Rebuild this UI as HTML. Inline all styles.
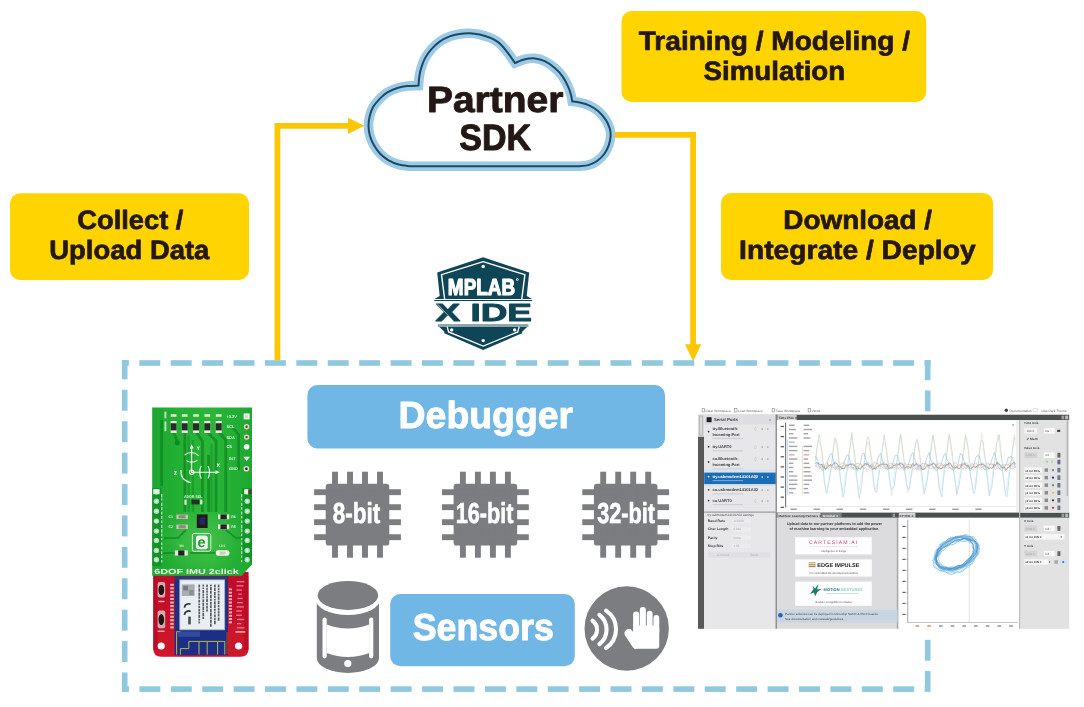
<!DOCTYPE html>
<html lang="en">
<head>
<meta charset="utf-8">
<title>Partner SDK workflow</title>
<style>
html,body{margin:0;padding:0;background:#fff;}
body{width:1084px;height:707px;overflow:hidden;}
svg{display:block;will-change:transform;font-family:"Liberation Sans",sans-serif;text-rendering:geometricPrecision;}
</style>
</head>
<body>
<svg width="1084" height="707" viewBox="0 0 1084 707">
<rect width="1084" height="707" fill="#fff"/>
<g id="labels">
<rect x="10" y="193.2" width="239.0" height="86.8" rx="10" fill="#FFD400"/>
<text transform="translate(77.26 228.85) scale(1.0260 1)" font-size="26.6" font-weight="bold" fill="#231815" stroke="#231815" stroke-width="0.70" stroke-linejoin="round">Collect /</text>
<text transform="translate(49.30 258.75) scale(1.0316 1)" font-size="26.6" font-weight="bold" fill="#231815" stroke="#231815" stroke-width="0.70" stroke-linejoin="round">Upload Data</text>
<rect x="621.5" y="11" width="304.7" height="91.0" rx="10" fill="#FFD400"/>
<text transform="translate(638.77 50.45) scale(1.0555 1)" font-size="26.6" font-weight="bold" fill="#231815" stroke="#231815" stroke-width="0.70" stroke-linejoin="round">Training / Modeling /</text>
<text transform="translate(703.52 80.45) scale(1.0424 1)" font-size="26.6" font-weight="bold" fill="#231815" stroke="#231815" stroke-width="0.70" stroke-linejoin="round">Simulation</text>
<rect x="721" y="193" width="272.1" height="87.0" rx="10" fill="#FFD400"/>
<text transform="translate(783.34 228.55) scale(1.0485 1)" font-size="26.6" font-weight="bold" fill="#231815" stroke="#231815" stroke-width="0.70" stroke-linejoin="round">Download /</text>
<text transform="translate(739.12 258.95) scale(1.0596 1)" font-size="26.6" font-weight="bold" fill="#231815" stroke="#231815" stroke-width="0.70" stroke-linejoin="round">Integrate / Deploy</text>
</g>
<path d="M409.8 166.2 C407.93 165.92 402.13 165.47 398.60 164.50 C395.07 163.53 391.72 162.23 388.60 160.40 C385.48 158.57 382.38 156.10 379.90 153.50 C377.42 150.90 375.35 147.70 373.70 144.80 C372.05 141.90 370.87 139.22 370.00 136.10 C369.13 132.98 368.55 129.42 368.50 126.10 C368.45 122.78 368.93 119.37 369.70 116.20 C370.47 113.03 371.40 110.03 373.10 107.10 C374.80 104.17 377.52 101.05 379.90 98.60 C382.28 96.15 384.48 94.17 387.40 92.40 C390.32 90.63 394.08 89.07 397.40 88.00 C400.72 86.93 403.78 86.40 407.30 86.00 C410.82 85.60 416.63 85.67 418.50 85.60 C418.62 84.22 418.78 80.13 419.20 77.30 C419.62 74.47 420.07 71.72 421.00 68.60 C421.93 65.48 423.13 61.77 424.80 58.60 C426.47 55.43 428.52 52.43 431.00 49.60 C433.48 46.77 436.58 43.80 439.70 41.60 C442.82 39.40 446.38 37.68 449.70 36.40 C453.02 35.12 456.28 34.43 459.60 33.90 C462.92 33.37 466.27 33.10 469.60 33.20 C472.93 33.30 476.28 33.78 479.60 34.50 C482.92 35.22 486.93 36.55 489.50 37.50 C492.07 38.45 493.25 39.15 495.00 40.20 C496.75 41.25 497.92 41.78 500.00 43.80 C502.08 45.82 505.02 49.10 507.50 52.30 C509.98 55.50 513.67 61.22 514.90 63.00 C516.57 62.38 521.57 60.07 524.90 59.30 C528.23 58.53 531.58 58.08 534.90 58.40 C538.22 58.72 541.48 59.60 544.80 61.20 C548.12 62.80 551.88 65.52 554.80 68.00 C557.72 70.48 560.12 73.08 562.30 76.10 C564.48 79.12 566.45 82.98 567.90 86.10 C569.35 89.22 570.28 92.25 571.00 94.80 C571.72 97.35 572.00 100.30 572.20 101.40 C573.45 101.58 576.80 101.80 579.70 102.50 C582.60 103.20 586.50 104.15 589.60 105.60 C592.70 107.05 595.60 108.82 598.30 111.20 C601.00 113.58 603.88 117.00 605.80 119.90 C607.72 122.80 609.00 125.90 609.80 128.60 C610.60 131.30 610.75 133.40 610.60 136.10 C610.45 138.80 609.90 141.90 608.90 144.80 C607.90 147.70 606.57 150.80 604.60 153.50 C602.63 156.20 599.80 159.07 597.10 161.00 C594.40 162.93 591.30 164.23 588.40 165.10 C585.50 165.97 581.15 166.02 579.70 166.20 Z" fill="#fff" stroke="#9DCAE6" stroke-width="9.6" stroke-linejoin="miter" stroke-miterlimit="3"/>
<path d="M409.8 166.2 C407.93 165.92 402.13 165.47 398.60 164.50 C395.07 163.53 391.72 162.23 388.60 160.40 C385.48 158.57 382.38 156.10 379.90 153.50 C377.42 150.90 375.35 147.70 373.70 144.80 C372.05 141.90 370.87 139.22 370.00 136.10 C369.13 132.98 368.55 129.42 368.50 126.10 C368.45 122.78 368.93 119.37 369.70 116.20 C370.47 113.03 371.40 110.03 373.10 107.10 C374.80 104.17 377.52 101.05 379.90 98.60 C382.28 96.15 384.48 94.17 387.40 92.40 C390.32 90.63 394.08 89.07 397.40 88.00 C400.72 86.93 403.78 86.40 407.30 86.00 C410.82 85.60 416.63 85.67 418.50 85.60 C418.62 84.22 418.78 80.13 419.20 77.30 C419.62 74.47 420.07 71.72 421.00 68.60 C421.93 65.48 423.13 61.77 424.80 58.60 C426.47 55.43 428.52 52.43 431.00 49.60 C433.48 46.77 436.58 43.80 439.70 41.60 C442.82 39.40 446.38 37.68 449.70 36.40 C453.02 35.12 456.28 34.43 459.60 33.90 C462.92 33.37 466.27 33.10 469.60 33.20 C472.93 33.30 476.28 33.78 479.60 34.50 C482.92 35.22 486.93 36.55 489.50 37.50 C492.07 38.45 493.25 39.15 495.00 40.20 C496.75 41.25 497.92 41.78 500.00 43.80 C502.08 45.82 505.02 49.10 507.50 52.30 C509.98 55.50 513.67 61.22 514.90 63.00 C516.57 62.38 521.57 60.07 524.90 59.30 C528.23 58.53 531.58 58.08 534.90 58.40 C538.22 58.72 541.48 59.60 544.80 61.20 C548.12 62.80 551.88 65.52 554.80 68.00 C557.72 70.48 560.12 73.08 562.30 76.10 C564.48 79.12 566.45 82.98 567.90 86.10 C569.35 89.22 570.28 92.25 571.00 94.80 C571.72 97.35 572.00 100.30 572.20 101.40 C573.45 101.58 576.80 101.80 579.70 102.50 C582.60 103.20 586.50 104.15 589.60 105.60 C592.70 107.05 595.60 108.82 598.30 111.20 C601.00 113.58 603.88 117.00 605.80 119.90 C607.72 122.80 609.00 125.90 609.80 128.60 C610.60 131.30 610.75 133.40 610.60 136.10 C610.45 138.80 609.90 141.90 608.90 144.80 C607.90 147.70 606.57 150.80 604.60 153.50 C602.63 156.20 599.80 159.07 597.10 161.00 C594.40 162.93 591.30 164.23 588.40 165.10 C585.50 165.97 581.15 166.02 579.70 166.20 Z" fill="none" stroke="#1C4A60" stroke-width="2.0" stroke-linejoin="miter"/>
<text transform="translate(426.91 112.15) scale(1.0657 1)" font-size="36.6" font-weight="bold" fill="#231815" stroke="#231815" stroke-width="0.90" stroke-linejoin="round">Partner</text>
<text transform="translate(459.33 149.85) scale(0.9292 1)" font-size="36.6" font-weight="bold" fill="#231815" stroke="#231815" stroke-width="0.97" stroke-linejoin="round">SDK</text>
<g id="frame" fill="#8FC8DF">
<rect x="121.90" y="360.20" width="6.93" height="5.6"/><rect x="139.30" y="360.20" width="20.94" height="5.6"/><rect x="170.71" y="360.20" width="20.94" height="5.6"/><rect x="202.12" y="360.20" width="20.94" height="5.6"/><rect x="233.53" y="360.20" width="20.94" height="5.6"/><rect x="264.94" y="360.20" width="20.94" height="5.6"/><rect x="296.35" y="360.20" width="20.94" height="5.6"/><rect x="327.76" y="360.20" width="20.94" height="5.6"/><rect x="359.17" y="360.20" width="20.94" height="5.6"/><rect x="390.58" y="360.20" width="20.94" height="5.6"/><rect x="421.99" y="360.20" width="20.94" height="5.6"/><rect x="453.40" y="360.20" width="20.94" height="5.6"/><rect x="484.81" y="360.20" width="20.94" height="5.6"/><rect x="516.22" y="360.20" width="20.94" height="5.6"/><rect x="547.63" y="360.20" width="20.94" height="5.6"/><rect x="579.04" y="360.20" width="20.94" height="5.6"/><rect x="610.45" y="360.20" width="20.94" height="5.6"/><rect x="641.86" y="360.20" width="20.94" height="5.6"/><rect x="673.27" y="360.20" width="20.94" height="5.6"/><rect x="704.68" y="360.20" width="20.94" height="5.6"/><rect x="736.09" y="360.20" width="20.94" height="5.6"/><rect x="767.50" y="360.20" width="20.94" height="5.6"/><rect x="798.91" y="360.20" width="20.94" height="5.6"/><rect x="830.32" y="360.20" width="20.94" height="5.6"/><rect x="861.73" y="360.20" width="20.94" height="5.6"/><rect x="893.14" y="360.20" width="20.94" height="5.6"/><rect x="924.55" y="360.20" width="5.95" height="5.6"/>
<rect x="121.90" y="686.30" width="7.03" height="5.6"/><rect x="139.40" y="686.30" width="20.94" height="5.6"/><rect x="170.81" y="686.30" width="20.94" height="5.6"/><rect x="202.22" y="686.30" width="20.94" height="5.6"/><rect x="233.63" y="686.30" width="20.94" height="5.6"/><rect x="265.04" y="686.30" width="20.94" height="5.6"/><rect x="296.45" y="686.30" width="20.94" height="5.6"/><rect x="327.86" y="686.30" width="20.94" height="5.6"/><rect x="359.27" y="686.30" width="20.94" height="5.6"/><rect x="390.68" y="686.30" width="20.94" height="5.6"/><rect x="422.09" y="686.30" width="20.94" height="5.6"/><rect x="453.50" y="686.30" width="20.94" height="5.6"/><rect x="484.91" y="686.30" width="20.94" height="5.6"/><rect x="516.32" y="686.30" width="20.94" height="5.6"/><rect x="547.73" y="686.30" width="20.94" height="5.6"/><rect x="579.14" y="686.30" width="20.94" height="5.6"/><rect x="610.55" y="686.30" width="20.94" height="5.6"/><rect x="641.96" y="686.30" width="20.94" height="5.6"/><rect x="673.37" y="686.30" width="20.94" height="5.6"/><rect x="704.78" y="686.30" width="20.94" height="5.6"/><rect x="736.19" y="686.30" width="20.94" height="5.6"/><rect x="767.60" y="686.30" width="20.94" height="5.6"/><rect x="799.01" y="686.30" width="20.94" height="5.6"/><rect x="830.42" y="686.30" width="20.94" height="5.6"/><rect x="861.83" y="686.30" width="20.94" height="5.6"/><rect x="893.24" y="686.30" width="20.94" height="5.6"/><rect x="924.65" y="686.30" width="0.35" height="5.6"/>
<rect x="121.90" y="360.20" width="5.6" height="19.13"/><rect x="121.90" y="389.80" width="5.6" height="20.94"/><rect x="121.90" y="421.21" width="5.6" height="20.94"/><rect x="121.90" y="452.62" width="5.6" height="20.94"/><rect x="121.90" y="484.03" width="5.6" height="20.94"/><rect x="121.90" y="515.44" width="5.6" height="20.94"/><rect x="121.90" y="546.85" width="5.6" height="20.94"/><rect x="121.90" y="578.26" width="5.6" height="20.94"/><rect x="121.90" y="609.67" width="5.6" height="20.94"/><rect x="121.90" y="641.08" width="5.6" height="20.94"/><rect x="121.90" y="672.49" width="5.6" height="19.51"/>
<rect x="924.90" y="360.20" width="5.6" height="19.98"/><rect x="924.90" y="390.50" width="5.6" height="20.85"/><rect x="924.90" y="421.67" width="5.6" height="20.85"/><rect x="924.90" y="452.84" width="5.6" height="20.85"/><rect x="924.90" y="484.01" width="5.6" height="20.85"/><rect x="924.90" y="515.18" width="5.6" height="20.85"/><rect x="924.90" y="546.35" width="5.6" height="20.85"/><rect x="924.90" y="577.52" width="5.6" height="20.85"/><rect x="924.90" y="608.69" width="5.6" height="20.85"/><rect x="924.90" y="639.86" width="5.6" height="20.85"/><rect x="924.90" y="671.03" width="5.6" height="20.85"/>
</g>
<g id="arrows" fill="none" stroke="#FCC600" stroke-width="5.7">
<path d="M277.4 360.3 V125.8 H350"/>
<path d="M615 134.9 H693.1 V346"/>
</g>
<path d="M348 117.7 L364.3 125.8 L348 134 Z" fill="#FCC600"/>
<path d="M685 344.2 L701.2 344.2 L693.1 361.2 Z" fill="#FCC600"/>
<g id="badge">
<polygon points="483.20,257.30 437.20,272.50 439.70,295.90 434.30,298.90 532.10,298.90 526.70,295.90 529.20,272.50" fill="#0F4657"/>
<polyline points="444.70,299.60 441.50,274.70 483.20,261.70 524.90,274.70 521.70,299.60" fill="none" stroke="#fff" stroke-width="1.4" stroke-linejoin="miter"/>
<rect x="434.2" y="299.95" width="98.00" height="1.1" fill="#0F4657"/>
<circle cx="483.2" cy="266.4" r="1.75" fill="#fff"/>
<text transform="translate(447.87 294.60) scale(0.8158 1)" font-size="23.2" font-weight="bold" fill="#fff" stroke="#fff" stroke-width="1.23" stroke-linejoin="round">MPLAB</text>
<circle cx="517.3" cy="279.6" r="1.25" fill="#fff"/><circle cx="517.3" cy="279.6" r="0.55" fill="#0F4657"/>
<text transform="translate(435.48 321.35) scale(1.4903 1)" font-size="24.8" font-weight="bold" fill="#0F4657" stroke="#0F4657" stroke-width="0.90" stroke-linejoin="round">X IDE</text>
<path d="M437.8 304.4 L453.4 321.2" stroke="#fff" stroke-width="0.6" fill="none"/>
<rect x="437.9" y="324.1" width="90.60" height="2.9" fill="#8AA2AA"/>
<polygon points="439.30,326.90 444.30,331.80 444.30,333.20 483.20,349.90 522.10,333.20 522.10,331.80 527.10,326.90" fill="#0F4657"/>
<polyline points="447.20,326.60 448.60,331.90 483.20,346.00 517.80,331.90 519.20,326.60" fill="none" stroke="#fff" stroke-width="1.3" stroke-linejoin="miter"/>
<circle cx="451.70" cy="329.90" r="1.7" fill="#fff"/>
<circle cx="514.70" cy="329.90" r="1.7" fill="#fff"/>
<circle cx="483.20" cy="340.60" r="1.7" fill="#fff"/>
</g>
<rect x="307.4" y="385" width="357.6" height="63.5" rx="10" fill="#70B7E6"/>
<text transform="translate(398.62 428.15) scale(0.9922 1)" font-size="37.7" font-weight="bold" fill="#fff" stroke="#fff" stroke-width="0.91" stroke-linejoin="round">Debugger</text>
<g fill="#7B7D80"><rect x="325.70" y="483.80" width="63.6" height="61.8" rx="3.2"/><rect x="332.05" y="471.70" width="5.9" height="86"/><rect x="314.10" y="489.25" width="86.8" height="5.9"/><rect x="347.05" y="471.70" width="5.9" height="86"/><rect x="314.10" y="504.25" width="86.8" height="5.9"/><rect x="362.05" y="471.70" width="5.9" height="86"/><rect x="314.10" y="519.25" width="86.8" height="5.9"/><rect x="377.05" y="471.70" width="5.9" height="86"/><rect x="314.10" y="534.25" width="86.8" height="5.9"/></g><text transform="translate(332.77 522.75) scale(0.7817 1)" font-size="28.8" font-weight="bold" fill="#fff" stroke="#fff" stroke-width="0.64" stroke-linejoin="round">8-bit</text>
<g fill="#7B7D80"><rect x="453.60" y="483.80" width="63.6" height="61.8" rx="3.2"/><rect x="459.95" y="471.70" width="5.9" height="86"/><rect x="442.00" y="489.25" width="86.8" height="5.9"/><rect x="474.95" y="471.70" width="5.9" height="86"/><rect x="442.00" y="504.25" width="86.8" height="5.9"/><rect x="489.95" y="471.70" width="5.9" height="86"/><rect x="442.00" y="519.25" width="86.8" height="5.9"/><rect x="504.95" y="471.70" width="5.9" height="86"/><rect x="442.00" y="534.25" width="86.8" height="5.9"/></g><text transform="translate(455.74 522.75) scale(0.7521 1)" font-size="28.8" font-weight="bold" fill="#fff" stroke="#fff" stroke-width="0.66" stroke-linejoin="round">16-bit</text>
<g fill="#7B7D80"><rect x="593.90" y="483.80" width="63.6" height="61.8" rx="3.2"/><rect x="600.25" y="471.70" width="5.9" height="86"/><rect x="582.30" y="489.25" width="86.8" height="5.9"/><rect x="615.25" y="471.70" width="5.9" height="86"/><rect x="582.30" y="504.25" width="86.8" height="5.9"/><rect x="630.25" y="471.70" width="5.9" height="86"/><rect x="582.30" y="519.25" width="86.8" height="5.9"/><rect x="645.25" y="471.70" width="5.9" height="86"/><rect x="582.30" y="534.25" width="86.8" height="5.9"/></g><text transform="translate(597.21 522.75) scale(0.7525 1)" font-size="28.8" font-weight="bold" fill="#fff" stroke="#fff" stroke-width="0.66" stroke-linejoin="round">32-bit</text>
<rect x="390.2" y="594" width="184.6" height="72.2" rx="10" fill="#70B7E6"/>
<text transform="translate(412.78 639.95) scale(0.9481 1)" font-size="37.7" font-weight="bold" fill="#fff" stroke="#fff" stroke-width="0.95" stroke-linejoin="round">Sensors</text>
<g id="cyl">
<path d="M316.8 600 V658 A31.1 15 0 0 0 379 658 V600 Z" fill="#7B7D80"/>
<ellipse cx="347.9" cy="598.4" rx="32.6" ry="16.7" fill="#fff"/>
<ellipse cx="347.9" cy="595.4" rx="30.3" ry="14.5" fill="#7B7D80"/>
<path d="M326.6 624.4 Q347.9 632.5 369.2 624.4 V653 Q347.9 661 326.6 653 Z" fill="#fff"/>
<path d="M324.6 619.5 V656.3 M371.2 619.5 V656.3" stroke="#fff" stroke-width="4.2" stroke-linecap="round" fill="none"/>
<circle cx="347.8" cy="663.5" r="3.6" fill="#fff"/>
</g>
<g id="gest">
<circle cx="626.7" cy="628.5" r="42.2" fill="#7B7D80"/>
<path d="M592.58 620.74 A11.14 11.14 0 0 1 592.58 638.57 M599.41 614.80 A18.57 18.57 0 0 1 599.41 644.06 M606.09 610.65 A22.57 22.57 0 0 1 606.09 648.07" fill="none" stroke="#fff" stroke-width="4.1" stroke-linecap="round"/>
<rect x="633.12" y="611.39" width="6.09" height="23.02" rx="3" fill="#fff"/>
<rect x="639.81" y="606.93" width="6.09" height="27.48" rx="3" fill="#fff"/>
<rect x="646.79" y="610.65" width="5.79" height="23.76" rx="2.9" fill="#fff"/>
<rect x="653.47" y="615.10" width="5.79" height="19.31" rx="2.9" fill="#fff"/>
<rect x="633.12" y="625.50" width="26.14" height="23.17" rx="3" fill="#fff"/>
<path d="M625.25 632.18 L627.18 629.95 L630.15 629.66 L633.86 633.67 L635.35 648.52 L633.12 646.29 L625.25 634.41 Z" fill="#fff" stroke="#fff" stroke-width="1.5" stroke-linejoin="round"/>
</g>
<defs><filter id="bsoft" x="-5%" y="-5%" width="110%" height="110%"><feGaussianBlur stdDeviation="0.7"/></filter><linearGradient id="gg" x1="0" y1="0" x2="1" y2="0"><stop offset="0" stop-color="#1ca630"/><stop offset="0.25" stop-color="#24b034"/><stop offset="0.6" stop-color="#2ab638"/><stop offset="1" stop-color="#1ea832"/></linearGradient><linearGradient id="rg" x1="0" y1="0" x2="0" y2="1"><stop offset="0" stop-color="#be0e2a"/><stop offset="1" stop-color="#d0142c"/></linearGradient><radialGradient id="glow" cx="0.5" cy="0.5" r="0.5"><stop offset="0" stop-color="#5cc85a" stop-opacity="0.55"/><stop offset="1" stop-color="#5cc85a" stop-opacity="0"/></radialGradient></defs>
<g id="board" filter="url(#bsoft)">
<path d="M153.2 572 H248.6 V648.6 Q248.6 656.8 240.4 656.8 H161.4 Q153.2 656.8 153.2 648.6 Z" fill="url(#rg)"/>
<rect x="153.20" y="576.00" width="4.80" height="74.00" fill="#b00c24" opacity="0.6"/>
<rect x="244.00" y="576.00" width="4.60" height="74.00" fill="#b00c24" opacity="0.5"/>
<rect x="174.60" y="576.60" width="53.20" height="78.60" fill="#1c2f86"/>
<rect x="174.60" y="576.60" width="53.20" height="3.60" fill="#2a3a7a"/>
<rect x="179.80" y="579.90" width="44.90" height="49.90" fill="#e9eef2"/>
<rect x="179.80" y="579.90" width="44.90" height="49.90" fill="none" stroke="#aab4c0" stroke-width="0.8"/>
<rect x="181.80" y="584.40" width="12.80" height="11.60" fill="#a9adb2"/>
<rect x="183.20" y="585.80" width="4.80" height="4.60" fill="#777b80"/>
<rect x="189.20" y="590.00" width="4.40" height="5.00" fill="#8a8e92"/>
<path d="M190.6 604.2 A4.4 4.4 0 0 0 184.4 607.6 M190.6 611.4 A4.4 4.4 0 0 0 184.4 614.8" stroke="#2a2e34" stroke-width="1.7" fill="none"/>
<rect x="188.20" y="616.60" width="2.60" height="7.80" fill="#4a4e56"/>
<rect x="198.40" y="584.60" width="1.70" height="2.94" fill="#5a5e66"/>
<rect x="198.40" y="588.43" width="1.70" height="3.30" fill="#5a5e66"/>
<rect x="198.40" y="592.60" width="1.70" height="3.26" fill="#5a5e66"/>
<rect x="198.40" y="596.37" width="1.70" height="2.44" fill="#5a5e66"/>
<rect x="198.40" y="599.78" width="1.70" height="2.77" fill="#5a5e66"/>
<rect x="198.40" y="603.50" width="1.70" height="1.80" fill="#5a5e66"/>
<rect x="198.40" y="606.04" width="1.70" height="2.04" fill="#5a5e66"/>
<rect x="198.40" y="608.86" width="1.70" height="2.63" fill="#5a5e66"/>
<rect x="198.40" y="612.00" width="1.70" height="1.99" fill="#5a5e66"/>
<rect x="198.40" y="614.63" width="1.70" height="3.25" fill="#5a5e66"/>
<rect x="198.40" y="618.76" width="1.70" height="1.89" fill="#5a5e66"/>
<rect x="198.40" y="621.54" width="1.70" height="1.85" fill="#5a5e66"/>
<rect x="202.40" y="584.60" width="1.70" height="1.84" fill="#5a5e66"/>
<rect x="202.40" y="587.42" width="1.70" height="1.61" fill="#5a5e66"/>
<rect x="202.40" y="589.92" width="1.70" height="3.33" fill="#5a5e66"/>
<rect x="202.40" y="593.83" width="1.70" height="1.90" fill="#5a5e66"/>
<rect x="202.40" y="596.39" width="1.70" height="1.96" fill="#5a5e66"/>
<rect x="202.40" y="599.28" width="1.70" height="2.73" fill="#5a5e66"/>
<rect x="202.40" y="602.60" width="1.70" height="3.34" fill="#5a5e66"/>
<rect x="202.40" y="606.54" width="1.70" height="3.34" fill="#5a5e66"/>
<rect x="202.40" y="610.57" width="1.70" height="1.64" fill="#5a5e66"/>
<rect x="202.40" y="612.92" width="1.70" height="3.28" fill="#5a5e66"/>
<rect x="202.40" y="616.83" width="1.70" height="2.20" fill="#5a5e66"/>
<rect x="206.20" y="584.60" width="1.70" height="2.67" fill="#5a5e66"/>
<rect x="206.20" y="588.13" width="1.70" height="1.72" fill="#5a5e66"/>
<rect x="206.20" y="590.52" width="1.70" height="2.15" fill="#5a5e66"/>
<rect x="206.20" y="593.52" width="1.70" height="1.93" fill="#5a5e66"/>
<rect x="206.20" y="596.19" width="1.70" height="1.92" fill="#5a5e66"/>
<rect x="206.20" y="598.74" width="1.70" height="3.29" fill="#5a5e66"/>
<rect x="206.20" y="603.00" width="1.70" height="2.24" fill="#5a5e66"/>
<rect x="206.20" y="605.95" width="1.70" height="2.59" fill="#5a5e66"/>
<rect x="206.20" y="609.24" width="1.70" height="2.28" fill="#5a5e66"/>
<rect x="210.00" y="584.60" width="1.70" height="1.68" fill="#5a5e66"/>
<rect x="210.00" y="586.87" width="1.70" height="3.32" fill="#5a5e66"/>
<rect x="210.00" y="590.79" width="1.70" height="2.96" fill="#5a5e66"/>
<rect x="210.00" y="594.72" width="1.70" height="3.30" fill="#5a5e66"/>
<rect x="210.00" y="598.69" width="1.70" height="2.24" fill="#5a5e66"/>
<rect x="210.00" y="601.69" width="1.70" height="3.00" fill="#5a5e66"/>
<rect x="210.00" y="605.24" width="1.70" height="2.95" fill="#5a5e66"/>
<rect x="210.00" y="609.08" width="1.70" height="3.15" fill="#5a5e66"/>
<rect x="210.00" y="612.75" width="1.70" height="3.30" fill="#5a5e66"/>
<rect x="210.00" y="616.60" width="1.70" height="2.21" fill="#5a5e66"/>
<rect x="210.00" y="619.61" width="1.70" height="3.25" fill="#5a5e66"/>
<rect x="210.00" y="623.54" width="1.70" height="3.26" fill="#5a5e66"/>
<rect x="214.00" y="584.60" width="1.70" height="2.83" fill="#5a5e66"/>
<rect x="214.00" y="588.09" width="1.70" height="3.04" fill="#5a5e66"/>
<rect x="214.00" y="591.94" width="1.70" height="2.90" fill="#5a5e66"/>
<rect x="214.00" y="595.49" width="1.70" height="2.47" fill="#5a5e66"/>
<rect x="214.00" y="598.82" width="1.70" height="1.75" fill="#5a5e66"/>
<rect x="214.00" y="601.37" width="1.70" height="3.26" fill="#5a5e66"/>
<rect x="214.00" y="605.15" width="1.70" height="2.93" fill="#5a5e66"/>
<rect x="214.00" y="608.75" width="1.70" height="2.05" fill="#5a5e66"/>
<rect x="214.00" y="611.63" width="1.70" height="1.86" fill="#5a5e66"/>
<rect x="214.00" y="614.48" width="1.70" height="2.75" fill="#5a5e66"/>
<rect x="214.00" y="618.13" width="1.70" height="2.20" fill="#5a5e66"/>
<rect x="214.00" y="620.93" width="1.70" height="3.37" fill="#5a5e66"/>
<rect x="217.80" y="584.60" width="1.70" height="2.73" fill="#5a5e66"/>
<rect x="217.80" y="588.23" width="1.70" height="1.79" fill="#5a5e66"/>
<rect x="217.80" y="590.74" width="1.70" height="1.87" fill="#5a5e66"/>
<rect x="217.80" y="593.53" width="1.70" height="2.13" fill="#5a5e66"/>
<rect x="217.80" y="596.39" width="1.70" height="3.40" fill="#5a5e66"/>
<rect x="217.80" y="600.71" width="1.70" height="3.36" fill="#5a5e66"/>
<rect x="217.80" y="604.79" width="1.70" height="2.48" fill="#5a5e66"/>
<rect x="217.80" y="608.14" width="1.70" height="2.46" fill="#5a5e66"/>
<rect x="217.80" y="611.25" width="1.70" height="2.33" fill="#5a5e66"/>
<rect x="217.80" y="614.15" width="1.70" height="2.28" fill="#5a5e66"/>
<rect x="217.80" y="617.42" width="1.70" height="3.33" fill="#5a5e66"/>
<path d="M176.6 654.6 V631.6 H180.4 M180.4 654.6 V648.6 H188.8 V641.4 H199 V654.6 M199 641.4 H207.2 V654.6 M207.2 641.4 H217.6 V654.6 M217.6 641.4 H224.8 V654.6" stroke="#c9c93c" stroke-width="0.9" fill="none"/>
<rect x="178.00" y="631.40" width="22.00" height="5.40" fill="#3a58a8" opacity="0.7"/>
<rect x="226.20" y="632.00" width="3.20" height="22.00" fill="#a8302c" opacity="0.8"/>
<rect x="170.20" y="583.80" width="3.60" height="2.00" fill="#e9b9c0"/>
<rect x="170.20" y="587.35" width="3.60" height="2.00" fill="#e9b9c0"/>
<rect x="170.20" y="590.90" width="3.60" height="2.00" fill="#e9b9c0"/>
<rect x="170.20" y="594.45" width="3.60" height="2.00" fill="#e9b9c0"/>
<rect x="170.20" y="598.00" width="3.60" height="2.00" fill="#e9b9c0"/>
<rect x="170.20" y="601.55" width="3.60" height="2.00" fill="#e9b9c0"/>
<rect x="170.20" y="605.10" width="3.60" height="2.00" fill="#e9b9c0"/>
<rect x="170.20" y="608.65" width="3.60" height="2.00" fill="#e9b9c0"/>
<rect x="170.20" y="612.20" width="3.60" height="2.00" fill="#e9b9c0"/>
<rect x="170.20" y="615.75" width="3.60" height="2.00" fill="#e9b9c0"/>
<rect x="170.20" y="619.30" width="3.60" height="2.00" fill="#e9b9c0"/>
<rect x="170.20" y="622.85" width="3.60" height="2.00" fill="#e9b9c0"/>
<rect x="170.20" y="626.40" width="3.60" height="2.00" fill="#e9b9c0"/>
<rect x="228.80" y="588.40" width="3.20" height="1.90" fill="#e9b9c0"/>
<rect x="228.80" y="591.70" width="3.20" height="1.90" fill="#e9b9c0"/>
<rect x="228.80" y="595.00" width="3.20" height="1.90" fill="#e9b9c0"/>
<rect x="228.80" y="598.30" width="3.20" height="1.90" fill="#e9b9c0"/>
<rect x="228.80" y="601.60" width="3.20" height="1.90" fill="#e9b9c0"/>
<rect x="228.80" y="604.90" width="3.20" height="1.90" fill="#e9b9c0"/>
<rect x="228.80" y="608.20" width="3.20" height="1.90" fill="#e9b9c0"/>
<rect x="228.80" y="611.50" width="3.20" height="1.90" fill="#e9b9c0"/>
<rect x="228.80" y="614.80" width="3.20" height="1.90" fill="#e9b9c0"/>
<rect x="228.80" y="618.10" width="3.20" height="1.90" fill="#e9b9c0"/>
<rect x="228.80" y="621.40" width="3.20" height="1.90" fill="#e9b9c0"/>
<rect x="157.6" y="582.0" width="7.6" height="15.6" rx="2" fill="#d8a8b0"/><ellipse cx="161.3" cy="590" rx="2.8" ry="5" fill="#1a1210"/>
<rect x="157.6" y="610.6" width="7.6" height="17.6" rx="2" fill="#d8a8b0"/><ellipse cx="161.3" cy="619.6" rx="2.8" ry="5.6" fill="#1a1210"/>
<rect x="158.40" y="600.80" width="6.00" height="1.40" fill="#f0c8d0"/>
<rect x="157.60" y="630.60" width="7.00" height="1.20" fill="#f0c8d0"/>
<rect x="236.65" y="581.00" width="7.71" height="1.30" fill="#e898a8" opacity="0.8"/>
<rect x="236.45" y="585.20" width="7.01" height="1.30" fill="#e898a8" opacity="0.8"/>
<rect x="236.37" y="589.40" width="5.50" height="1.30" fill="#e898a8" opacity="0.8"/>
<rect x="238.20" y="593.60" width="3.53" height="1.30" fill="#e898a8" opacity="0.8"/>
<rect x="237.48" y="597.80" width="5.12" height="1.30" fill="#e898a8" opacity="0.8"/>
<rect x="237.11" y="602.00" width="5.63" height="1.30" fill="#e898a8" opacity="0.8"/>
<rect x="236.58" y="606.20" width="7.32" height="1.30" fill="#e898a8" opacity="0.8"/>
<rect x="236.38" y="610.40" width="5.44" height="1.30" fill="#e898a8" opacity="0.8"/>
<rect x="236.24" y="614.60" width="5.69" height="1.30" fill="#e898a8" opacity="0.8"/>
<rect x="237.02" y="618.80" width="7.14" height="1.30" fill="#e898a8" opacity="0.8"/>
<rect x="236.96" y="623.00" width="4.44" height="1.30" fill="#e898a8" opacity="0.8"/>
<rect x="236.72" y="627.20" width="7.75" height="1.30" fill="#e898a8" opacity="0.8"/>
<rect x="235.40" y="631.20" width="10.00" height="1.40" fill="#f4c0c8"/>
<circle cx="161.2" cy="646.0" r="3.6" fill="#fff"/><circle cx="238.6" cy="646.0" r="3.6" fill="#fff"/>
<path d="M152.2 407.6 H252 V564.6 L241.6 575.8 H152.2 Z" fill="url(#gg)"/>
<ellipse cx="202" cy="540" rx="44" ry="34" fill="url(#glow)"/>
<rect x="152.20" y="488.00" width="9.00" height="78.00" fill="#118a2a" opacity="0.75"/>
<rect x="242.40" y="488.00" width="9.60" height="74.00" fill="#118a2a" opacity="0.75"/>
<path d="M161.6 420 V486 M173.6 432 L177 441 M184.8 432 V512 M196.2 432 L202.4 441 V512 M207.4 432 L216 441 V512 M218.8 432 L225.8 440 V512 M233 428 L238.6 434.6 V470 M208.6 455 V512" stroke="#0e8a22" stroke-width="2.7" fill="none" opacity="0.8" stroke-linejoin="round"/>
<path d="M188.6 436 V512 M193 440 V512 M211.6 444 V512" stroke="#0e8a22" stroke-width="2.2" fill="none" opacity="0.45"/>
<circle cx="177.2" cy="442.8" r="2.6" fill="#0e8a22"/>
<path d="M164 538 H178 L186 530 M180 553 H160 M190 553 H216 M226 530 L236 538 H243" stroke="#0e8a22" stroke-width="2.0" fill="none" opacity="0.7"/>
<rect x="170.70" y="414.20" width="5.80" height="2.60" fill="#d9ead0"/>
<rect x="170.60" y="421.00" width="6.00" height="12.00" fill="#e8f0e4"/>
<rect x="170.60" y="423.20" width="6.00" height="7.20" fill="#2b2b27"/>
<rect x="181.80" y="414.20" width="5.80" height="2.60" fill="#d9ead0"/>
<rect x="181.70" y="421.00" width="6.00" height="12.00" fill="#e8f0e4"/>
<rect x="181.70" y="423.20" width="6.00" height="7.20" fill="#2b2b27"/>
<rect x="193.10" y="414.20" width="5.80" height="2.60" fill="#d9ead0"/>
<rect x="193.00" y="421.00" width="6.00" height="12.00" fill="#e8f0e4"/>
<rect x="193.00" y="423.20" width="6.00" height="7.20" fill="#2b2b27"/>
<rect x="204.40" y="414.20" width="5.80" height="2.60" fill="#d9ead0"/>
<rect x="204.30" y="421.00" width="6.00" height="12.00" fill="#e8f0e4"/>
<rect x="204.30" y="423.20" width="6.00" height="7.20" fill="#2b2b27"/>
<rect x="215.80" y="414.20" width="5.80" height="2.60" fill="#d9ead0"/>
<rect x="215.70" y="421.00" width="6.00" height="12.00" fill="#e8f0e4"/>
<rect x="215.70" y="423.20" width="6.00" height="7.20" fill="#2b2b27"/>
<rect x="164.40" y="411.60" width="2.00" height="6.80" fill="#cfeccf" opacity="0.85"/>
<rect x="164.40" y="421.40" width="2.00" height="9.80" fill="#cfeccf" opacity="0.85"/>
<text transform="translate(226.40 417.70) scale(0.0950 0.1)" font-size="42" font-weight="bold" fill="#d8f4d8">+3.3V</text>
<rect x="243.60" y="413.40" width="6.00" height="6.00" fill="#f2f6ec"/>
<rect x="245.60" y="415.20" width="2.20" height="2.20" fill="#c8ccc0"/>
<text transform="translate(226.40 428.30) scale(0.0950 0.1)" font-size="42" font-weight="bold" fill="#d8f4d8">SCL</text>
<circle cx="246.6" cy="426.8" r="2.7" fill="#e8d0c0"/><circle cx="246.6" cy="426.8" r="1.2" fill="#7a3a3a"/>
<text transform="translate(226.40 438.60) scale(0.0950 0.1)" font-size="42" font-weight="bold" fill="#d8f4d8">SDA</text>
<circle cx="246.6" cy="437.1" r="2.7" fill="#e8d0c0"/><circle cx="246.6" cy="437.1" r="1.2" fill="#7a3a3a"/>
<text transform="translate(226.40 448.20) scale(0.0950 0.1)" font-size="42" font-weight="bold" fill="#d8f4d8">CS</text>
<circle cx="246.6" cy="446.7" r="2.8" fill="#f4f4f4"/>
<text transform="translate(229.00 460.00) scale(0.0950 0.1)" font-size="42" font-weight="bold" fill="#d8f4d8">INT</text>
<path d="M243.2 456.7 H250 L246.6 461.1 Z" fill="#f0f4ec"/>
<text transform="translate(229.00 470.20) scale(0.0950 0.1)" font-size="42" font-weight="bold" fill="#d8f4d8">GND</text>
<circle cx="246.4" cy="468.7" r="2.8" fill="#f0d8d8"/><circle cx="246.4" cy="468.7" r="1.3" fill="#3a1414"/>
<path d="M191.7 473 V446.6 M190.2 448.4 L191.7 445.6 L193.2 448.4 M191.7 472.2 H217.6 M215.4 470.8 L218.4 472.2 L215.4 473.6" stroke="#f4fcf4" stroke-width="1.1" fill="none"/>
<circle cx="191.7" cy="472.2" r="2.2" stroke="#f4fcf4" stroke-width="1.1" fill="none"/><circle cx="191.7" cy="472.2" r="0.7" fill="#fff"/>
<path d="M184.6 455 Q191.7 449.8 198.6 455.6 M186.4 460.6 Q191.7 464 197.4 460.4 M201.2 466 Q198.2 472.2 201.2 478.6 M208 466 Q211 472.2 208 478.6 M181 470 Q180 480 190.6 482.6" stroke="#f4fcf4" stroke-width="1.1" fill="none"/>
<text transform="translate(196.40 450.20) scale(0.1000 0.1)" font-size="52" font-weight="bold" fill="#fff">Y</text>
<text transform="translate(216.60 467.40) scale(0.1000 0.1)" font-size="52" font-weight="bold" fill="#fff">X</text>
<text transform="translate(173.80 475.00) scale(0.1000 0.1)" font-size="52" font-weight="bold" fill="#fff">Z</text>
<text transform="translate(184.00 498.40) scale(0.0930 0.1)" font-size="39" font-weight="bold" fill="#d8f4d8">ADDR SEL</text>
<rect x="184.40" y="499.60" width="2.20" height="5.20" fill="#dfeedd"/>
<rect x="191.40" y="499.60" width="8.00" height="4.80" fill="#2a2e2a"/>
<rect x="200.20" y="499.60" width="2.20" height="4.80" fill="#dfeedd"/>
<rect x="176.40" y="514.60" width="11.60" height="4.40" fill="#c9c5b4"/>
<rect x="178.60" y="515.20" width="7.00" height="3.20" fill="#8d8a78"/>
<text transform="translate(168.40 518.20) scale(0.1000 0.1)" font-size="36" font-weight="bold" fill="#d8f4d8">C1</text>
<rect x="218.00" y="514.40" width="11.20" height="4.80" fill="#e4efe0"/>
<rect x="220.40" y="514.40" width="6.40" height="4.80" fill="#232622"/>
<text transform="translate(231.20 518.20) scale(0.1000 0.1)" font-size="36" font-weight="bold" fill="#d8f4d8">R6</text>
<rect x="176.40" y="524.60" width="11.60" height="4.40" fill="#c9c5b4"/>
<rect x="178.60" y="525.20" width="7.00" height="3.20" fill="#8d8a78"/>
<text transform="translate(168.40 528.20) scale(0.1000 0.1)" font-size="36" font-weight="bold" fill="#d8f4d8">C2</text>
<rect x="218.00" y="524.40" width="11.20" height="4.80" fill="#e4efe0"/>
<rect x="220.40" y="524.40" width="6.40" height="4.80" fill="#232622"/>
<text transform="translate(231.20 528.20) scale(0.1000 0.1)" font-size="36" font-weight="bold" fill="#d8f4d8">R5</text>
<rect x="196.80" y="514.40" width="10.80" height="13.60" fill="#1a1d22"/>
<rect x="199.40" y="517.40" width="5.60" height="7.20" fill="#2a2660"/>
<rect x="192.4" y="533.6" width="18.4" height="17.6" rx="1.6" fill="#35b544" stroke="#def2dc" stroke-width="1"/>
<rect x="196.0" y="535.6" width="11.8" height="13.6" rx="2.6" fill="#eef8ee"/>
<text transform="translate(197.60 547.40) scale(0.1000 0.1)" font-size="146" font-weight="bold" fill="#1f9a30">e</text>
<text transform="translate(179.40 547.00) scale(0.1000 0.1)" font-size="34" font-weight="bold" fill="#d8f4d8">R4</text>
<text transform="translate(219.00 547.00) scale(0.1000 0.1)" font-size="34" font-weight="bold" fill="#d8f4d8">LD1</text>
<rect x="174.80" y="550.40" width="13.00" height="5.20" fill="#dcebd8"/>
<rect x="178.20" y="550.40" width="6.20" height="5.20" fill="#20241f"/>
<rect x="215.8" y="550.2" width="13.6" height="5.6" rx="2.4" fill="#f4f7e4"/>
<rect x="219.60" y="551.40" width="6.00" height="3.20" fill="#cfd0b0"/>
<circle cx="156.4" cy="491.8" r="2.7" fill="#a6e2b6"/><circle cx="156.4" cy="491.8" r="1.2" fill="#dcf6e2"/>
<circle cx="247.2" cy="491.8" r="2.7" fill="#a6e2b6"/><circle cx="247.2" cy="491.8" r="1.2" fill="#dcf6e2"/>
<circle cx="156.4" cy="501.2" r="2.7" fill="#a6e2b6"/><circle cx="156.4" cy="501.2" r="1.2" fill="#dcf6e2"/>
<circle cx="247.2" cy="501.2" r="2.7" fill="#a6e2b6"/><circle cx="247.2" cy="501.2" r="1.2" fill="#dcf6e2"/>
<circle cx="156.4" cy="511.2" r="2.7" fill="#a6e2b6"/><circle cx="156.4" cy="511.2" r="1.2" fill="#dcf6e2"/>
<circle cx="247.2" cy="511.2" r="2.7" fill="#a6e2b6"/><circle cx="247.2" cy="511.2" r="1.2" fill="#dcf6e2"/>
<circle cx="156.4" cy="521.1" r="2.7" fill="#a6e2b6"/><circle cx="156.4" cy="521.1" r="1.2" fill="#dcf6e2"/>
<circle cx="247.2" cy="521.1" r="2.7" fill="#a6e2b6"/><circle cx="247.2" cy="521.1" r="1.2" fill="#dcf6e2"/>
<circle cx="156.4" cy="531.1" r="2.7" fill="#a6e2b6"/><circle cx="156.4" cy="531.1" r="1.2" fill="#dcf6e2"/>
<circle cx="247.2" cy="531.1" r="2.7" fill="#a6e2b6"/><circle cx="247.2" cy="531.1" r="1.2" fill="#dcf6e2"/>
<circle cx="156.4" cy="540.4" r="2.7" fill="#a6e2b6"/><circle cx="156.4" cy="540.4" r="1.2" fill="#dcf6e2"/>
<circle cx="247.2" cy="540.4" r="2.7" fill="#a6e2b6"/><circle cx="247.2" cy="540.4" r="1.2" fill="#dcf6e2"/>
<circle cx="156.4" cy="550.4" r="2.7" fill="#a6e2b6"/><circle cx="156.4" cy="550.4" r="1.2" fill="#dcf6e2"/>
<circle cx="247.2" cy="550.4" r="2.7" fill="#a6e2b6"/><circle cx="247.2" cy="550.4" r="1.2" fill="#dcf6e2"/>
<circle cx="156.4" cy="559.7" r="2.7" fill="#a6e2b6"/><circle cx="156.4" cy="559.7" r="1.2" fill="#dcf6e2"/>
<circle cx="247.2" cy="559.7" r="2.7" fill="#a6e2b6"/><circle cx="247.2" cy="559.7" r="1.2" fill="#dcf6e2"/>
<rect x="153.20" y="489.20" width="6.40" height="5.00" fill="#dff2e0"/>
<rect x="244.20" y="489.20" width="3.80" height="5.00" fill="#dff2e0"/>
<rect x="248.20" y="489.60" width="3.40" height="4.40" fill="#5a3a30"/>
<rect x="161.00" y="494.00" width="1.40" height="3.53" fill="#c8ecc8" opacity="0.75"/>
<rect x="241.00" y="494.00" width="1.40" height="3.52" fill="#c8ecc8" opacity="0.75"/>
<rect x="161.00" y="498.40" width="1.40" height="2.09" fill="#c8ecc8" opacity="0.75"/>
<rect x="241.00" y="498.40" width="1.40" height="2.14" fill="#c8ecc8" opacity="0.75"/>
<rect x="161.00" y="502.80" width="1.40" height="3.34" fill="#c8ecc8" opacity="0.75"/>
<rect x="241.00" y="502.80" width="1.40" height="3.18" fill="#c8ecc8" opacity="0.75"/>
<rect x="161.00" y="507.20" width="1.40" height="3.07" fill="#c8ecc8" opacity="0.75"/>
<rect x="241.00" y="507.20" width="1.40" height="2.49" fill="#c8ecc8" opacity="0.75"/>
<rect x="161.00" y="511.60" width="1.40" height="2.97" fill="#c8ecc8" opacity="0.75"/>
<rect x="241.00" y="511.60" width="1.40" height="2.97" fill="#c8ecc8" opacity="0.75"/>
<rect x="161.00" y="516.00" width="1.40" height="2.93" fill="#c8ecc8" opacity="0.75"/>
<rect x="241.00" y="516.00" width="1.40" height="2.25" fill="#c8ecc8" opacity="0.75"/>
<rect x="161.00" y="520.40" width="1.40" height="2.69" fill="#c8ecc8" opacity="0.75"/>
<rect x="241.00" y="520.40" width="1.40" height="2.63" fill="#c8ecc8" opacity="0.75"/>
<rect x="161.00" y="524.80" width="1.40" height="3.16" fill="#c8ecc8" opacity="0.75"/>
<rect x="241.00" y="524.80" width="1.40" height="3.59" fill="#c8ecc8" opacity="0.75"/>
<rect x="161.00" y="529.20" width="1.40" height="3.52" fill="#c8ecc8" opacity="0.75"/>
<rect x="241.00" y="529.20" width="1.40" height="2.87" fill="#c8ecc8" opacity="0.75"/>
<rect x="161.00" y="533.60" width="1.40" height="2.71" fill="#c8ecc8" opacity="0.75"/>
<rect x="241.00" y="533.60" width="1.40" height="2.43" fill="#c8ecc8" opacity="0.75"/>
<rect x="161.00" y="538.00" width="1.40" height="2.06" fill="#c8ecc8" opacity="0.75"/>
<rect x="241.00" y="538.00" width="1.40" height="2.04" fill="#c8ecc8" opacity="0.75"/>
<rect x="161.00" y="542.40" width="1.40" height="2.74" fill="#c8ecc8" opacity="0.75"/>
<rect x="241.00" y="542.40" width="1.40" height="2.51" fill="#c8ecc8" opacity="0.75"/>
<rect x="161.00" y="546.80" width="1.40" height="2.61" fill="#c8ecc8" opacity="0.75"/>
<rect x="241.00" y="546.80" width="1.40" height="3.43" fill="#c8ecc8" opacity="0.75"/>
<rect x="161.00" y="551.20" width="1.40" height="2.84" fill="#c8ecc8" opacity="0.75"/>
<rect x="241.00" y="551.20" width="1.40" height="2.90" fill="#c8ecc8" opacity="0.75"/>
<rect x="161.00" y="555.60" width="1.40" height="2.38" fill="#c8ecc8" opacity="0.75"/>
<rect x="241.00" y="555.60" width="1.40" height="2.04" fill="#c8ecc8" opacity="0.75"/>
<rect x="161.00" y="560.00" width="1.40" height="2.52" fill="#c8ecc8" opacity="0.75"/>
<rect x="241.00" y="560.00" width="1.40" height="2.22" fill="#c8ecc8" opacity="0.75"/>
<text transform="translate(154.22 573.60) scale(1.4588 1)" font-size="7.4" font-weight="bold" fill="#f2fbf0">6DOF IMU 2click</text>
</g>
<defs><filter id="soft" x="-2%" y="-2%" width="104%" height="104%"><feGaussianBlur stdDeviation="0.62"/></filter><filter id="soft2" x="-2%" y="-2%" width="104%" height="104%"><feGaussianBlur stdDeviation="0.3"/></filter><clipPath id="shotclip"><rect x="697.0" y="403.0" width="373.20000000000005" height="226.79999999999995"/></clipPath></defs>
<g id="shot" clip-path="url(#shotclip)"><g filter="url(#soft)">
<rect x="697.00" y="411.80" width="373.20" height="218.00" fill="#fff"/>
<rect x="702.10" y="408.60" width="2.40" height="3.40" fill="none" stroke="#777" stroke-width="0.5"/>
<text transform="translate(705.50 411.60) scale(0.1)" font-size="33" fill="#6a6a6a">Clear Workspace</text>
<rect x="734.60" y="408.60" width="2.40" height="3.40" fill="none" stroke="#777" stroke-width="0.5"/>
<text transform="translate(738.00 411.60) scale(0.1)" font-size="33" fill="#6a6a6a">Load Workspace</text>
<rect x="772.10" y="408.60" width="2.40" height="3.40" fill="none" stroke="#777" stroke-width="0.5"/>
<text transform="translate(775.50 411.60) scale(0.1)" font-size="33" fill="#6a6a6a">Save Workspace</text>
<rect x="808.10" y="408.60" width="2.40" height="3.40" fill="none" stroke="#777" stroke-width="0.5"/>
<text transform="translate(811.50 411.60) scale(0.1)" font-size="33" fill="#6a6a6a">Views</text>
<circle cx="1006.3" cy="410.2" r="1.7" fill="#444"/>
<text transform="translate(1009.60 411.50) scale(0.1)" font-size="33" fill="#6a6a6a">Documentation</text>
<rect x="1033" y="408.6" width="5.2" height="3" rx="1.4" fill="#fff" stroke="#aaa" stroke-width="0.4"/>
<text transform="translate(1041.60 411.50) scale(0.1)" font-size="33" fill="#6a6a6a">Use Dark Theme</text>
<rect x="698.00" y="414.30" width="6.20" height="22.50" fill="#d9d9db"/>
<rect x="699.60" y="416.00" width="3.00" height="19.00" fill="none" stroke="#9a9a9a" stroke-width="0.5"/>
<rect x="698.00" y="436.80" width="6.20" height="192.00" fill="#56585a"/>
<rect x="704.20" y="414.30" width="71.60" height="214.50" fill="#e7e7ea"/>
<rect x="704.20" y="414.30" width="71.60" height="10.30" fill="#dedee2"/>
<rect x="706.60" y="417.20" width="5.00" height="5.00" fill="#222"/>
<text transform="translate(714.00 421.30) scale(0.1)" font-size="43" font-weight="bold" fill="#3a3a3a">Serial Ports</text>
<text transform="translate(769.00 421.30) scale(0.1)" font-size="40" fill="#555">«</text>
<circle cx="708.6" cy="431.60" r="0.9" fill="#3c3c3c"/>
<text transform="translate(712.50 429.70) scale(0.1)" font-size="40" font-weight="bold" fill="#3c3c3c">tty.Bluetooth-</text>
<text transform="translate(712.50 435.60) scale(0.1)" font-size="40" font-weight="bold" fill="#3c3c3c">Incoming-Port</text>
<rect x="712.50" y="437.90" width="30.50" height="1.20" fill="#cfd0d4"/>
<text transform="translate(754.50 429.80) scale(0.1)" font-size="36" fill="#9a9aa0">▯</text>
<text transform="translate(760.90 429.80) scale(0.1)" font-size="36" fill="#9a9aa0">◂</text>
<text transform="translate(767.30 429.80) scale(0.1)" font-size="36" fill="#9a9aa0">▸</text>
<circle cx="708.6" cy="446.80" r="0.9" fill="#3c3c3c"/>
<text transform="translate(712.50 447.90) scale(0.1)" font-size="40" font-weight="bold" fill="#3c3c3c">tty.UART0</text>
<rect x="712.50" y="450.20" width="30.50" height="1.20" fill="#cfd0d4"/>
<text transform="translate(754.50 448.00) scale(0.1)" font-size="36" fill="#9a9aa0">▯</text>
<text transform="translate(760.90 448.00) scale(0.1)" font-size="36" fill="#9a9aa0">◂</text>
<text transform="translate(767.30 448.00) scale(0.1)" font-size="36" fill="#9a9aa0">▸</text>
<circle cx="708.6" cy="462.00" r="0.9" fill="#3c3c3c"/>
<text transform="translate(712.50 460.10) scale(0.1)" font-size="40" font-weight="bold" fill="#3c3c3c">cu.Bluetooth-</text>
<text transform="translate(712.50 466.00) scale(0.1)" font-size="40" font-weight="bold" fill="#3c3c3c">Incoming-Port</text>
<rect x="712.50" y="468.30" width="30.50" height="1.20" fill="#cfd0d4"/>
<text transform="translate(754.50 460.20) scale(0.1)" font-size="36" fill="#9a9aa0">▯</text>
<text transform="translate(760.90 460.20) scale(0.1)" font-size="36" fill="#9a9aa0">◂</text>
<text transform="translate(767.30 460.20) scale(0.1)" font-size="36" fill="#9a9aa0">▸</text>
<rect x="704.20" y="469.60" width="71.60" height="3.00" fill="#d3e4f4"/>
<rect x="704.20" y="472.60" width="71.60" height="11.60" fill="#1B6DB3"/>
<circle cx="708.6" cy="476.60" r="0.9" fill="#fff"/>
<text transform="translate(712.50 477.70) scale(0.1)" font-size="40" font-weight="bold" fill="#fff">tty.usbmodem14101A02</text>
<rect x="712.50" y="480.00" width="30.50" height="1.20" fill="#6fa3d4"/>
<text transform="translate(754.50 477.80) scale(0.1)" font-size="36" fill="#e8f0fa">▯</text>
<text transform="translate(760.90 477.80) scale(0.1)" font-size="36" fill="#e8f0fa">◂</text>
<text transform="translate(767.30 477.80) scale(0.1)" font-size="36" fill="#e8f0fa">▸</text>
<rect x="704.20" y="484.20" width="71.60" height="1.80" fill="#cfe0f0"/>
<circle cx="708.6" cy="489.80" r="0.9" fill="#3c3c3c"/>
<text transform="translate(712.50 490.90) scale(0.1)" font-size="40" font-weight="bold" fill="#3c3c3c">cu.usbmodem14101A02</text>
<rect x="712.50" y="493.20" width="30.50" height="1.20" fill="#cfd0d4"/>
<text transform="translate(754.50 491.00) scale(0.1)" font-size="36" fill="#9a9aa0">▯</text>
<text transform="translate(760.90 491.00) scale(0.1)" font-size="36" fill="#9a9aa0">◂</text>
<text transform="translate(767.30 491.00) scale(0.1)" font-size="36" fill="#9a9aa0">▸</text>
<circle cx="708.6" cy="500.60" r="0.9" fill="#3c3c3c"/>
<text transform="translate(712.50 501.70) scale(0.1)" font-size="40" font-weight="bold" fill="#3c3c3c">cu.UART0</text>
<rect x="712.50" y="504.00" width="30.50" height="1.20" fill="#cfd0d4"/>
<text transform="translate(754.50 501.80) scale(0.1)" font-size="36" fill="#9a9aa0">▯</text>
<text transform="translate(760.90 501.80) scale(0.1)" font-size="36" fill="#9a9aa0">◂</text>
<text transform="translate(767.30 501.80) scale(0.1)" font-size="36" fill="#9a9aa0">▸</text>
<rect x="704.20" y="511.60" width="71.60" height="1.00" fill="#8a8a8e"/>
<text transform="translate(707.60 516.20) scale(0.1)" font-size="32" fill="#555">tty.usbmodem14101A02 settings</text>
<text transform="translate(707.80 522.20) scale(0.1)" font-size="35" font-weight="bold" fill="#3c3c3c">Baud Rate</text>
<rect x="732.00" y="518.80" width="19.00" height="4.60" fill="#ececef"/>
<text transform="translate(733.40 522.20) scale(0.1)" font-size="32" fill="#a8a8ae">115200</text>
<text transform="translate(707.80 530.45) scale(0.1)" font-size="35" font-weight="bold" fill="#3c3c3c">Char Length</text>
<rect x="732.00" y="527.05" width="19.00" height="4.60" fill="#ececef"/>
<text transform="translate(733.40 530.45) scale(0.1)" font-size="32" fill="#a8a8ae">8 bits</text>
<text transform="translate(707.80 538.70) scale(0.1)" font-size="35" font-weight="bold" fill="#3c3c3c">Parity</text>
<rect x="732.00" y="535.30" width="19.00" height="4.60" fill="#ececef"/>
<text transform="translate(733.40 538.70) scale(0.1)" font-size="32" fill="#a8a8ae">None</text>
<text transform="translate(707.80 546.95) scale(0.1)" font-size="35" font-weight="bold" fill="#3c3c3c">Stop Bits</text>
<rect x="732.00" y="543.55" width="19.00" height="4.60" fill="#ececef"/>
<text transform="translate(733.40 546.95) scale(0.1)" font-size="32" fill="#a8a8ae">1 bit</text>
<rect x="708.00" y="552.20" width="62.50" height="5.40" fill="#e0e0e4"/>
<text transform="translate(717.00 556.20) scale(0.1)" font-size="33" fill="#aeaeb4">Connect</text>
<text transform="translate(750.00 556.20) scale(0.1)" font-size="33" fill="#aeaeb4">Send</text>
<rect x="775.60" y="414.30" width="1.30" height="214.50" fill="#77797c"/>
<rect x="776.90" y="414.70" width="292.30" height="5.50" fill="#4c4f50"/>
<rect x="777.40" y="415.00" width="19.20" height="5.20" fill="#d4d4d6"/>
<text transform="translate(778.40 419.20) scale(0.1)" font-size="34" font-weight="bold" fill="#333">Time Plot ✕</text>
<rect x="1061.50" y="415.60" width="2.70" height="3.70" fill="#9a9c9e"/>
<rect x="1065.20" y="415.60" width="3.00" height="3.70" fill="#b8babc"/>
<rect x="776.90" y="420.20" width="242.50" height="92.40" fill="#fff"/>
<rect x="1016.20" y="420.20" width="3.20" height="92.40" fill="#efefef"/>
<rect x="785.30" y="422.60" width="0.80" height="84.90" fill="#3a4048"/>
<rect x="780.60" y="425.90" width="3.40" height="1.20" fill="#555"/>
<rect x="780.60" y="436.00" width="3.40" height="1.20" fill="#555"/>
<rect x="780.60" y="446.10" width="3.40" height="1.20" fill="#555"/>
<rect x="780.60" y="456.20" width="3.40" height="1.20" fill="#555"/>
<rect x="780.60" y="466.30" width="3.40" height="1.20" fill="#555"/>
<rect x="780.60" y="476.40" width="3.40" height="1.20" fill="#555"/>
<rect x="780.60" y="486.50" width="3.40" height="1.20" fill="#555"/>
<rect x="780.60" y="496.60" width="3.40" height="1.20" fill="#555"/>
<rect x="780.60" y="506.70" width="3.40" height="1.20" fill="#555"/>
<rect x="789.00" y="424.60" width="5.60" height="1.40" fill="#4a4a4a" opacity="0.5"/>
<rect x="803.60" y="424.60" width="5.60" height="1.40" fill="#4a4a4a" opacity="0.5"/>
<rect x="789.00" y="428.82" width="6.80" height="1.40" fill="#4a4a4a" opacity="0.5"/>
<rect x="803.60" y="428.82" width="8.40" height="1.40" fill="#4a4a4a" opacity="0.5"/>
<rect x="789.00" y="433.04" width="4.40" height="1.40" fill="#4a4a4a" opacity="0.5"/>
<rect x="803.60" y="433.04" width="4.40" height="1.40" fill="#4a4a4a" opacity="0.5"/>
<rect x="789.00" y="437.26" width="8.40" height="1.40" fill="#4a4a4a" opacity="0.5"/>
<rect x="803.60" y="437.26" width="6.80" height="1.40" fill="#4a4a4a" opacity="0.5"/>
<rect x="789.00" y="441.48" width="5.60" height="1.40" fill="#5a7aa0" opacity="0.5"/>
<rect x="789.00" y="445.70" width="8.40" height="1.40" fill="#4a4a4a" opacity="0.5"/>
<rect x="803.60" y="445.70" width="8.40" height="1.40" fill="#4a4a4a" opacity="0.5"/>
<rect x="789.00" y="449.92" width="8.40" height="1.40" fill="#4a4a4a" opacity="0.5"/>
<rect x="803.60" y="449.92" width="5.60" height="1.40" fill="#4a4a4a" opacity="0.5"/>
<rect x="789.00" y="454.14" width="5.60" height="1.40" fill="#b05a6a" opacity="0.5"/>
<rect x="803.60" y="454.14" width="5.60" height="1.40" fill="#b05a6a" opacity="0.5"/>
<rect x="789.00" y="458.36" width="8.40" height="1.40" fill="#4a4a4a" opacity="0.5"/>
<rect x="803.60" y="458.36" width="4.40" height="1.40" fill="#4a4a4a" opacity="0.5"/>
<rect x="789.00" y="462.58" width="4.40" height="1.40" fill="#4a4a4a" opacity="0.5"/>
<rect x="803.60" y="462.58" width="5.60" height="1.40" fill="#4a4a4a" opacity="0.5"/>
<rect x="789.00" y="466.80" width="4.40" height="1.40" fill="#4a4a4a" opacity="0.5"/>
<rect x="803.60" y="466.80" width="6.80" height="1.40" fill="#4a4a4a" opacity="0.5"/>
<rect x="789.00" y="471.02" width="4.40" height="1.40" fill="#4a4a4a" opacity="0.5"/>
<rect x="803.60" y="471.02" width="6.80" height="1.40" fill="#4a4a4a" opacity="0.5"/>
<rect x="789.00" y="475.24" width="8.40" height="1.40" fill="#7a4a6a" opacity="0.5"/>
<rect x="803.60" y="475.24" width="8.40" height="1.40" fill="#7a4a6a" opacity="0.5"/>
<rect x="789.00" y="479.46" width="8.40" height="1.40" fill="#4a4a4a" opacity="0.5"/>
<rect x="803.60" y="479.46" width="8.40" height="1.40" fill="#4a4a4a" opacity="0.5"/>
<rect x="789.00" y="483.68" width="8.40" height="1.40" fill="#4a4a4a" opacity="0.5"/>
<rect x="803.60" y="483.68" width="5.60" height="1.40" fill="#4a4a4a" opacity="0.5"/>
<rect x="789.00" y="487.90" width="6.80" height="1.40" fill="#4a4a4a" opacity="0.5"/>
<rect x="803.60" y="487.90" width="4.40" height="1.40" fill="#4a4a4a" opacity="0.5"/>
<rect x="789.00" y="492.12" width="4.40" height="1.40" fill="#6a4aa0" opacity="0.5"/>
<rect x="803.60" y="492.12" width="5.60" height="1.40" fill="#6a4aa0" opacity="0.5"/>
<rect x="787.60" y="439.50" width="0.50" height="55.50" fill="#7aa8d0"/>
<rect x="802.60" y="446.00" width="0.40" height="49.00" fill="#c8c090"/>
<rect x="786.00" y="506.60" width="230.00" height="0.40" fill="#c8c8c8"/>
<rect x="790.50" y="508.60" width="6.40" height="1.20" fill="#8a8a8a"/>
<rect x="813.60" y="508.60" width="6.40" height="1.20" fill="#8a8a8a"/>
<rect x="836.70" y="508.60" width="6.40" height="1.20" fill="#8a8a8a"/>
<rect x="859.80" y="508.60" width="6.40" height="1.20" fill="#8a8a8a"/>
<rect x="882.90" y="508.60" width="6.40" height="1.20" fill="#8a8a8a"/>
<rect x="906.00" y="508.60" width="6.40" height="1.20" fill="#8a8a8a"/>
<rect x="929.10" y="508.60" width="6.40" height="1.20" fill="#8a8a8a"/>
<rect x="952.20" y="508.60" width="6.40" height="1.20" fill="#8a8a8a"/>
<rect x="975.30" y="508.60" width="6.40" height="1.20" fill="#8a8a8a"/>
<polyline points="815.5,464.1 816.8,450.0 818.0,442.0 819.2,434.3 820.5,443.9 821.8,450.1 823.0,461.5 824.2,467.3 825.5,468.8 826.8,467.9 828.0,468.4 829.2,467.9 830.5,466.6 831.8,463.1 833.0,452.4 834.2,443.7 835.5,437.7 836.8,442.2 838.0,450.0 839.2,461.6 840.5,467.8 841.8,467.2 843.0,469.3 844.2,468.9 845.5,468.5 846.8,467.1 848.0,464.5 849.2,452.8 850.5,445.4 851.8,432.5 853.0,444.0 854.2,450.4 855.5,462.0 856.8,467.4 858.0,467.5 859.2,467.5 860.5,468.9 861.8,468.5 863.0,466.1 864.2,465.5 865.5,452.1 866.8,440.0 868.0,436.7 869.2,440.4 870.5,451.7 871.8,459.8 873.0,467.5 874.2,468.5 875.5,468.9 876.8,468.7 878.0,468.6 879.2,466.3 880.5,464.8 881.8,453.6 883.0,443.5 884.2,434.8 885.5,443.7 886.8,451.8 888.0,461.3 889.2,467.5 890.5,468.4 891.8,467.7 893.0,467.2 894.2,467.6 895.5,467.2 896.8,464.3 898.0,455.2 899.2,445.5 900.5,434.2 901.8,441.8 903.0,451.7 904.2,460.0 905.5,467.5 906.8,467.0 908.0,469.4 909.2,467.3 910.5,468.4 911.8,467.5 913.0,465.9 914.2,456.4 915.5,442.3 916.8,439.3 918.0,441.2 919.2,450.5 920.5,460.5 921.8,467.5 923.0,468.4 924.2,469.4 925.5,468.9 926.8,466.8 928.0,466.1 929.2,467.1 930.5,453.7 931.8,443.4 933.0,434.9 934.2,440.4 935.5,450.8 936.8,459.1 938.0,466.9 939.2,467.5 940.5,469.2 941.8,468.1 943.0,467.5 944.2,468.0 945.5,465.4 946.8,455.4 948.0,441.8 949.2,434.1 950.5,440.8 951.8,450.4 953.0,459.3 954.2,465.8 955.5,467.9 956.8,468.4 958.0,468.3 959.2,468.7 960.5,468.3 961.8,466.2 963.0,455.8 964.2,448.8 965.5,435.5 966.8,440.8 968.0,446.2 969.2,458.0 970.5,465.8 971.8,467.8 973.0,468.6 974.2,469.4 975.5,467.3 976.8,466.3 978.0,467.1 979.2,456.8 980.5,442.5 981.8,440.0 983.0,441.6 984.2,450.8 985.5,459.8 986.8,465.9 988.0,467.3 989.2,468.5 990.5,467.4 991.8,468.1 993.0,467.2 994.2,465.1 995.5,456.5 996.8,442.3 998.0,440.5 999.2,434.8 1000.5,446.6 1001.8,458.6 1003.0,465.7 1004.2,466.7 1005.5,468.6 1006.8,469.5 1008.0,468.3 1009.2,466.8 1010.5,467.1 1011.8,455.5 1013.0,447.5 1014.2,437.6 1015.5,439.3" fill="none" stroke="#c8d2c8" stroke-width="0.75" opacity="0.9" stroke-linejoin="round"/>
<polyline points="815.5,459.3 816.8,448.4 818.0,439.9 819.2,443.0 820.5,444.8 821.8,454.6 823.0,465.5 824.2,467.0 825.5,466.6 826.8,468.8 828.0,466.9 829.2,466.2 830.5,465.4 831.8,461.2 833.0,450.0 834.2,438.3 835.5,441.9 836.8,446.8 838.0,458.2 839.2,467.2 840.5,466.4 841.8,466.6 843.0,466.7 844.2,467.8 845.5,467.3 846.8,465.8 848.0,459.2 849.2,450.5 850.5,438.7 851.8,433.8 853.0,445.6 854.2,458.0 855.5,466.2 856.8,465.6 858.0,468.4 859.2,468.4 860.5,468.9 861.8,466.7 863.0,467.0 864.2,461.5 865.5,449.5 866.8,446.1 868.0,441.5 869.2,446.2 870.5,456.9 871.8,465.6 873.0,465.9 874.2,466.4 875.5,469.2 876.8,466.4 878.0,467.3 879.2,465.7 880.5,461.3 881.8,450.4 883.0,446.1 884.2,442.2 885.5,442.6 886.8,455.3 888.0,466.4 889.2,466.5 890.5,468.1 891.8,467.7 893.0,468.8 894.2,467.2 895.5,467.0 896.8,460.6 898.0,450.4 899.2,444.2 900.5,434.5 901.8,444.8 903.0,455.5 904.2,466.1 905.5,467.3 906.8,467.9 908.0,468.6 909.2,468.1 910.5,467.0 911.8,466.9 913.0,462.9 914.2,450.7 915.5,446.0 916.8,440.4 918.0,445.9 919.2,454.4 920.5,465.2 921.8,467.5 923.0,468.1 924.2,468.5 925.5,469.1 926.8,467.2 928.0,467.2 929.2,461.4 930.5,451.3 931.8,440.4 933.0,435.4 934.2,443.3 935.5,454.0 936.8,464.8 938.0,465.7 939.2,467.6 940.5,468.1 941.8,466.7 943.0,466.5 944.2,465.6 945.5,461.8 946.8,452.1 948.0,443.0 949.2,436.6 950.5,446.9 951.8,455.0 953.0,463.9 954.2,467.3 955.5,466.1 956.8,466.9 958.0,467.4 959.2,468.3 960.5,466.4 961.8,462.9 963.0,452.0 964.2,442.9 965.5,434.3 966.8,442.8 968.0,450.2 969.2,464.0 970.5,465.7 971.8,468.2 973.0,467.6 974.2,467.1 975.5,467.1 976.8,467.6 978.0,462.6 979.2,450.8 980.5,443.9 981.8,432.8 983.0,445.0 984.2,454.4 985.5,462.6 986.8,467.4 988.0,467.1 989.2,468.7 990.5,467.3 991.8,466.3 993.0,466.2 994.2,463.5 995.5,452.8 996.8,441.5 998.0,434.5 999.2,442.7 1000.5,453.1 1001.8,462.3 1003.0,466.8 1004.2,466.4 1005.5,468.7 1006.8,468.1 1008.0,467.8 1009.2,466.8 1010.5,464.3 1011.8,454.6 1013.0,444.8 1014.2,433.7 1015.5,445.2" fill="none" stroke="#c4d8ba" stroke-width="0.6" opacity="0.6" stroke-linejoin="round"/>
<polyline points="815.5,466.4 816.8,463.6 818.0,463.8 819.2,462.5 820.5,464.1 821.8,464.0 823.0,465.8 824.2,479.0 825.5,489.8 826.8,493.5 828.0,486.5 829.2,481.8 830.5,472.6 831.8,465.6 833.0,463.4 834.2,462.8 835.5,464.3 836.8,463.0 838.0,465.4 839.2,466.9 840.5,478.2 841.8,486.8 843.0,497.3 844.2,493.9 845.5,482.7 846.8,473.3 848.0,466.3 849.2,465.4 850.5,463.2 851.8,464.1 853.0,463.7 854.2,464.5 855.5,465.1 856.8,476.9 858.0,488.2 859.2,498.3 860.5,491.8 861.8,484.2 863.0,471.6 864.2,466.6 865.5,463.4 866.8,463.9 868.0,462.0 869.2,462.6 870.5,464.2 871.8,466.8 873.0,474.7 874.2,487.3 875.5,492.2 876.8,492.0 878.0,480.8 879.2,472.9 880.5,466.7 881.8,465.3 883.0,463.4 884.2,462.0 885.5,464.4 886.8,463.7 888.0,465.0 889.2,473.7 890.5,486.7 891.8,489.9 893.0,488.5 894.2,486.0 895.5,475.1 896.8,466.1 898.0,463.9 899.2,463.1 900.5,463.3 901.8,462.6 903.0,464.4 904.2,464.9 905.5,475.6 906.8,485.5 908.0,489.4 909.2,488.7 910.5,480.9 911.8,473.4 913.0,466.8 914.2,465.6 915.5,463.7 916.8,463.5 918.0,464.3 919.2,464.0 920.5,465.8 921.8,472.1 923.0,483.3 924.2,494.1 925.5,488.9 926.8,482.5 928.0,474.4 929.2,466.1 930.5,465.7 931.8,463.9 933.0,463.1 934.2,462.5 935.5,464.7 936.8,464.7 938.0,474.5 939.2,485.5 940.5,493.0 941.8,496.8 943.0,482.8 944.2,473.4 945.5,466.2 946.8,464.8 948.0,463.8 949.2,463.5 950.5,463.4 951.8,465.7 953.0,466.3 954.2,473.1 955.5,483.3 956.8,494.1 958.0,489.4 959.2,483.8 960.5,476.8 961.8,464.7 963.0,465.3 964.2,463.6 965.5,463.1 966.8,462.8 968.0,464.5 969.2,466.3 970.5,474.9 971.8,481.9 973.0,491.4 974.2,493.5 975.5,488.5 976.8,475.7 978.0,467.1 979.2,464.7 980.5,463.1 981.8,463.9 983.0,462.6 984.2,463.9 985.5,466.0 986.8,472.7 988.0,481.3 989.2,495.9 990.5,490.6 991.8,486.9 993.0,477.3 994.2,465.7 995.5,465.3 996.8,462.9 998.0,462.0 999.2,464.4 1000.5,464.6 1001.8,465.3 1003.0,473.8 1004.2,483.8 1005.5,494.6 1006.8,496.7 1008.0,489.0 1009.2,476.1 1010.5,466.4 1011.8,465.0 1013.0,464.1 1014.2,463.9 1015.5,464.2" fill="none" stroke="#b5d6e6" stroke-width="0.8" opacity="0.95" stroke-linejoin="round"/>
<polyline points="815.5,465.9 816.8,464.0 818.0,464.8 819.2,465.0 820.5,465.6 821.8,466.4 823.0,471.5 824.2,481.4 825.5,486.7 826.8,493.4 828.0,486.9 829.2,476.6 830.5,466.7 831.8,465.1 833.0,464.0 834.2,463.5 835.5,464.3 836.8,465.4 838.0,466.7 839.2,471.5 840.5,481.6 841.8,491.6 843.0,487.8 844.2,485.2 845.5,475.6 846.8,466.5 848.0,465.8 849.2,464.0 850.5,463.3 851.8,465.3 853.0,463.6 854.2,464.4 855.5,471.2 856.8,480.1 858.0,487.0 859.2,490.3 860.5,482.6 861.8,477.3 863.0,466.3 864.2,466.2 865.5,465.5 866.8,465.0 868.0,464.2 869.2,465.4 870.5,464.6 871.8,469.8 873.0,480.4 874.2,484.5 875.5,489.5 876.8,484.3 878.0,478.0 879.2,466.9 880.5,465.5 881.8,464.7 883.0,463.3 884.2,463.9 885.5,464.3 886.8,466.6 888.0,469.9 889.2,479.4 890.5,486.9 891.8,495.9 893.0,483.6 894.2,476.2 895.5,468.0 896.8,466.0 898.0,465.8 899.2,462.9 900.5,465.5 901.8,464.6 903.0,466.2 904.2,469.2 905.5,477.1 906.8,485.3 908.0,492.7 909.2,486.1 910.5,476.8 911.8,468.9 913.0,465.9 914.2,465.7 915.5,464.7 916.8,465.0 918.0,464.5 919.2,466.1 920.5,469.6 921.8,480.0 923.0,488.6 924.2,491.6 925.5,484.6 926.8,479.4 928.0,467.7 929.2,464.8 930.5,464.4 931.8,462.9 933.0,465.2 934.2,464.8 935.5,464.7 936.8,467.3 938.0,480.7 939.2,489.9 940.5,490.6 941.8,487.5 943.0,478.7 944.2,467.8 945.5,465.6 946.8,465.0 948.0,463.9 949.2,464.5 950.5,464.1 951.8,465.6 953.0,468.1 954.2,476.3 955.5,485.0 956.8,495.2 958.0,484.8 959.2,478.3 960.5,470.3 961.8,465.9 963.0,465.1 964.2,463.8 965.5,465.2 966.8,465.1 968.0,464.3 969.2,468.1 970.5,476.7 971.8,483.4 973.0,488.9 974.2,488.7 975.5,480.6 976.8,469.3 978.0,466.4 979.2,465.3 980.5,463.5 981.8,462.8 983.0,465.1 984.2,465.9 985.5,466.8 986.8,476.2 988.0,488.6 989.2,493.9 990.5,487.8 991.8,481.5 993.0,471.1 994.2,466.2 995.5,465.2 996.8,464.2 998.0,465.4 999.2,465.9 1000.5,465.1 1001.8,465.9 1003.0,474.4 1004.2,481.7 1005.5,493.7 1006.8,488.1 1008.0,478.3 1009.2,471.1 1010.5,465.8 1011.8,465.2 1013.0,463.8 1014.2,465.3 1015.5,464.6" fill="none" stroke="#c4dfec" stroke-width="0.6" opacity="0.8" stroke-linejoin="round"/>
<polyline points="815.5,456.1 816.8,458.9 818.0,461.7 819.2,467.4 820.5,467.5 821.8,469.9 823.0,470.3 824.2,468.5 825.5,468.8 826.8,466.8 828.0,460.3 829.2,456.9 830.5,454.1 831.8,453.8 833.0,458.6 834.2,463.5 835.5,467.3 836.8,469.2 838.0,468.8 839.2,468.9 840.5,469.5 841.8,467.5 843.0,466.0 844.2,462.2 845.5,458.2 846.8,455.1 848.0,454.9 849.2,456.8 850.5,463.2 851.8,466.8 853.0,467.6 854.2,469.9 855.5,468.7 856.8,470.8 858.0,468.5 859.2,465.5 860.5,462.9 861.8,455.6 863.0,453.3 864.2,453.7 865.5,458.1 866.8,463.5 868.0,465.4 869.2,467.0 870.5,468.8 871.8,469.3 873.0,469.7 874.2,469.0 875.5,466.2 876.8,462.3 878.0,457.7 879.2,454.9 880.5,453.3 881.8,458.4 883.0,461.9 884.2,466.5 885.5,466.9 886.8,469.4 888.0,469.7 889.2,468.4 890.5,468.1 891.8,466.2 893.0,462.7 894.2,458.0 895.5,455.4 896.8,455.4 898.0,456.9 899.2,461.6 900.5,466.5 901.8,467.5 903.0,468.4 904.2,470.6 905.5,468.5 906.8,467.7 908.0,466.4 909.2,461.4 910.5,458.1 911.8,453.7 913.0,452.6 914.2,458.2 915.5,461.1 916.8,465.3 918.0,467.2 919.2,470.3 920.5,469.0 921.8,470.1 923.0,468.1 924.2,466.1 925.5,462.0 926.8,458.4 928.0,455.1 929.2,452.3 930.5,459.6 931.8,462.2 933.0,467.3 934.2,467.4 935.5,470.2 936.8,470.2 938.0,468.9 939.2,467.1 940.5,466.2 941.8,461.6 943.0,458.0 944.2,454.7 945.5,453.3 946.8,459.0 948.0,461.3 949.2,466.2 950.5,468.8 951.8,468.8 953.0,470.5 954.2,470.1 955.5,467.5 956.8,467.5 958.0,464.2 959.2,458.4 960.5,453.0 961.8,454.8 963.0,457.7 964.2,461.6 965.5,466.0 966.8,466.7 968.0,467.8 969.2,468.4 970.5,470.9 971.8,468.1 973.0,466.3 974.2,463.9 975.5,458.2 976.8,455.9 978.0,455.8 979.2,456.0 980.5,460.8 981.8,466.2 983.0,467.5 984.2,469.6 985.5,469.5 986.8,470.0 988.0,468.9 989.2,466.3 990.5,464.0 991.8,459.6 993.0,456.6 994.2,452.4 995.5,456.3 996.8,461.1 998.0,466.5 999.2,468.6 1000.5,469.6 1001.8,470.3 1003.0,469.4 1004.2,467.3 1005.5,466.0 1006.8,463.1 1008.0,457.5 1009.2,457.9 1010.5,456.4 1011.8,456.9 1013.0,460.0 1014.2,464.4 1015.5,467.7" fill="none" stroke="#8fbfdc" stroke-width="0.75" opacity="0.8" stroke-linejoin="round"/>
<polyline points="815.5,466.1 816.8,467.2 818.0,468.3 819.2,469.5 820.5,466.6 821.8,465.6 823.0,464.0 824.2,465.6 825.5,463.9 826.8,462.2 828.0,464.6 829.2,466.2 830.5,465.1 831.8,467.9 833.0,467.4 834.2,467.7 835.5,469.7 836.8,466.8 838.0,466.5 839.2,466.1 840.5,463.9 841.8,463.0 843.0,463.0 844.2,462.6 845.5,465.6 846.8,466.3 848.0,466.9 849.2,467.7 850.5,468.0 851.8,467.8 853.0,468.1 854.2,466.5 855.5,463.9 856.8,463.6 858.0,463.5 859.2,463.0 860.5,464.1 861.8,465.8 863.0,467.6 864.2,468.8 865.5,467.3 866.8,470.2 868.0,469.6 869.2,468.5 870.5,465.4 871.8,464.2 873.0,465.7 874.2,462.0 875.5,462.6 876.8,463.5 878.0,463.9 879.2,466.0 880.5,465.8 881.8,466.9 883.0,468.0 884.2,468.0 885.5,468.9 886.8,466.5 888.0,465.0 889.2,463.9 890.5,463.3 891.8,463.4 893.0,465.3 894.2,464.9 895.5,465.4 896.8,466.2 898.0,469.1 899.2,467.3 900.5,468.9 901.8,467.5 903.0,467.0 904.2,466.0 905.5,463.1 906.8,464.8 908.0,464.1 909.2,464.5 910.5,465.3 911.8,466.2 913.0,467.8 914.2,469.3 915.5,468.0 916.8,470.2 918.0,466.3 919.2,465.5 920.5,465.8 921.8,463.6 923.0,463.6 924.2,464.2 925.5,462.6 926.8,463.3 928.0,464.9 929.2,468.1 930.5,468.5 931.8,468.3 933.0,468.1 934.2,468.6 935.5,466.6 936.8,464.1 938.0,464.3 939.2,463.5 940.5,463.0 941.8,463.8 943.0,466.1 944.2,464.7 945.5,466.7 946.8,467.7 948.0,468.6 949.2,467.7 950.5,467.8 951.8,466.7 953.0,466.6 954.2,463.0 955.5,462.3 956.8,464.3 958.0,464.8 959.2,466.1 960.5,464.9 961.8,466.6 963.0,469.3 964.2,467.5 965.5,468.5 966.8,468.3 968.0,465.4 969.2,466.6 970.5,465.3 971.8,463.6 973.0,463.3 974.2,465.2 975.5,466.0 976.8,467.0 978.0,467.4 979.2,466.9 980.5,468.6 981.8,467.6 983.0,466.4 984.2,465.8 985.5,465.1 986.8,464.0 988.0,462.3 989.2,464.5 990.5,464.5 991.8,464.2 993.0,464.4 994.2,468.1 995.5,469.1 996.8,468.1 998.0,468.7 999.2,469.1 1000.5,468.2 1001.8,466.1 1003.0,465.2 1004.2,464.5 1005.5,464.5 1006.8,464.1 1008.0,465.2 1009.2,465.0 1010.5,467.3 1011.8,469.4 1013.0,468.4 1014.2,468.2 1015.5,466.3" fill="none" stroke="#dbaab3" stroke-width="0.7" opacity="0.85" stroke-linejoin="round"/>
<polyline points="815.5,463.7 816.8,462.6 818.0,463.1 819.2,464.4 820.5,464.9 821.8,464.4 823.0,467.8 824.2,466.4 825.5,469.8 826.8,467.8 828.0,466.1 829.2,466.0 830.5,464.5 831.8,466.0 833.0,464.6 834.2,463.1 835.5,462.6 836.8,464.0 838.0,465.5 839.2,466.9 840.5,466.8 841.8,469.0 843.0,468.2 844.2,468.8 845.5,466.0 846.8,464.5 848.0,465.8 849.2,464.3 850.5,464.5 851.8,464.2 853.0,464.1 854.2,466.0 855.5,466.5 856.8,469.1 858.0,468.7 859.2,468.6 860.5,469.3 861.8,466.1 863.0,466.4 864.2,465.0 865.5,463.1 866.8,464.9 868.0,463.5 869.2,466.1 870.5,465.6 871.8,467.9 873.0,468.8 874.2,467.7 875.5,469.4 876.8,466.6 878.0,465.8 879.2,465.8 880.5,464.2 881.8,464.2 883.0,464.0 884.2,464.5 885.5,465.2 886.8,464.1 888.0,467.6 889.2,468.6 890.5,467.7 891.8,468.4 893.0,465.9 894.2,465.6 895.5,464.4 896.8,464.0 898.0,464.0 899.2,465.3 900.5,462.8 901.8,464.3 903.0,464.4 904.2,468.3 905.5,467.3 906.8,466.4 908.0,467.3 909.2,466.6 910.5,468.2 911.8,464.7 913.0,463.4 914.2,465.9 915.5,464.1 916.8,463.7 918.0,465.8 919.2,466.5 920.5,465.5 921.8,469.1 923.0,469.3 924.2,469.3 925.5,467.6 926.8,465.2 928.0,465.2 929.2,465.8 930.5,463.9 931.8,465.1 933.0,463.3 934.2,463.9 935.5,464.6 936.8,467.8 938.0,467.4 939.2,469.1 940.5,468.5 941.8,468.8 943.0,466.9 944.2,467.0 945.5,466.2 946.8,463.8 948.0,465.3 949.2,462.7 950.5,463.6 951.8,466.5 953.0,467.5 954.2,468.0 955.5,468.1 956.8,466.4 958.0,468.5 959.2,468.4 960.5,467.3 961.8,464.1 963.0,463.8 964.2,464.2 965.5,463.8 966.8,466.2 968.0,465.4 969.2,467.8 970.5,468.6 971.8,468.1 973.0,466.7 974.2,466.6 975.5,467.8 976.8,466.0 978.0,465.3 979.2,464.5 980.5,464.7 981.8,464.4 983.0,464.0 984.2,465.4 985.5,467.2 986.8,467.2 988.0,468.0 989.2,469.0 990.5,467.9 991.8,468.5 993.0,467.4 994.2,464.3 995.5,465.9 996.8,462.3 998.0,463.9 999.2,463.9 1000.5,466.1 1001.8,467.7 1003.0,467.8 1004.2,466.8 1005.5,470.2 1006.8,469.2 1008.0,467.0 1009.2,467.3 1010.5,465.1 1011.8,463.9 1013.0,463.4 1014.2,462.1 1015.5,464.3" fill="none" stroke="#6a6a6a" stroke-width="0.7" opacity="0.7" stroke-linejoin="round"/>
<polyline points="815.5,466.4 816.8,466.4 818.0,465.7 819.2,466.6 820.5,467.7 821.8,467.8 823.0,468.1 824.2,465.8 825.5,465.2 826.8,466.3 828.0,463.5 829.2,465.6 830.5,465.0 831.8,465.5 833.0,466.3 834.2,466.9 835.5,467.6 836.8,466.3 838.0,468.1 839.2,468.4 840.5,467.3 841.8,465.3 843.0,466.3 844.2,465.4 845.5,464.8 846.8,465.6 848.0,464.9 849.2,464.8 850.5,466.5 851.8,468.1 853.0,468.3 854.2,467.0 855.5,466.7 856.8,466.4 858.0,466.9 859.2,464.2 860.5,463.7 861.8,465.3 863.0,465.3 864.2,463.7 865.5,465.2 866.8,466.2 868.0,466.8 869.2,467.4 870.5,467.3 871.8,466.0 873.0,466.7 874.2,466.8 875.5,465.8 876.8,463.1 878.0,463.4 879.2,464.6 880.5,464.4 881.8,464.2 883.0,465.6 884.2,465.9 885.5,468.6 886.8,468.4 888.0,468.6 889.2,465.5 890.5,466.0 891.8,464.3 893.0,465.0 894.2,463.1 895.5,465.0 896.8,464.8 898.0,465.2 899.2,465.5 900.5,466.0 901.8,468.4 903.0,466.6 904.2,467.2 905.5,468.0 906.8,466.0 908.0,464.4 909.2,464.8 910.5,464.4 911.8,464.9 913.0,465.4 914.2,466.9 915.5,465.7 916.8,468.4 918.0,468.8 919.2,468.2 920.5,468.8 921.8,466.3 923.0,465.2 924.2,466.6 925.5,464.0 926.8,464.6 928.0,464.6 929.2,465.4 930.5,465.8 931.8,466.1 933.0,467.1 934.2,467.1 935.5,468.3 936.8,467.1 938.0,467.6 939.2,465.5 940.5,465.3 941.8,465.8 943.0,463.8 944.2,464.8 945.5,464.1 946.8,465.8 948.0,465.9 949.2,467.9 950.5,468.0 951.8,469.5 953.0,468.5 954.2,467.1 955.5,465.0 956.8,466.4 958.0,465.7 959.2,464.7 960.5,464.5 961.8,463.6 963.0,466.4 964.2,465.9 965.5,467.9 966.8,468.0 968.0,467.3 969.2,466.9 970.5,465.8 971.8,465.7 973.0,464.8 974.2,464.6 975.5,462.9 976.8,463.8 978.0,465.6 979.2,464.3 980.5,466.9 981.8,467.2 983.0,468.5 984.2,468.1 985.5,468.8 986.8,468.2 988.0,465.7 989.2,464.5 990.5,463.4 991.8,464.2 993.0,463.9 994.2,464.8 995.5,466.6 996.8,467.6 998.0,466.5 999.2,467.8 1000.5,468.4 1001.8,466.5 1003.0,467.0 1004.2,466.3 1005.5,464.8 1006.8,464.9 1008.0,465.0 1009.2,463.1 1010.5,463.5 1011.8,466.7 1013.0,466.7 1014.2,465.9 1015.5,466.4" fill="none" stroke="#ccbc90" stroke-width="0.6" opacity="0.8" stroke-linejoin="round"/>
<text transform="translate(1012.20 425.60) scale(0.1)" font-size="32" fill="#555">▾</text>
<rect x="776.90" y="512.60" width="292.30" height="5.20" fill="#4c4f50"/>
<rect x="777.40" y="512.90" width="43.20" height="4.90" fill="#d4d4d6"/>
<text transform="translate(778.40 516.80) scale(0.1)" font-size="31" font-weight="bold" fill="#333">Machine Learning Partners ✕</text>
<rect x="821.20" y="512.90" width="20.40" height="4.90" fill="#7c7e80"/>
<text transform="translate(822.40 516.80) scale(0.1)" font-size="31" font-weight="bold" fill="#fff">Terminal ✕</text>
<rect x="892.60" y="513.60" width="2.40" height="3.40" fill="#9a9c9e"/>
<rect x="898.80" y="512.90" width="16.60" height="4.90" fill="#d4d4d6"/>
<text transform="translate(899.60 516.80) scale(0.1)" font-size="31" font-weight="bold" fill="#333">XY Plot ✕</text>
<rect x="1061.50" y="513.60" width="2.70" height="3.40" fill="#9a9c9e"/>
<rect x="1065.20" y="513.60" width="3.00" height="3.40" fill="#b8babc"/>
<rect x="776.90" y="517.80" width="120.70" height="111.00" fill="#dcdcdf"/>
<rect x="896.80" y="517.80" width="1.80" height="111.00" fill="#a8a8aa"/>
<text transform="translate(834.4 525.4) scale(0.1)" font-size="37" font-weight="bold" fill="#333" text-anchor="middle">Upload data to our partner platforms to add the power</text>
<text transform="translate(834.4 530.0) scale(0.1)" font-size="37" font-weight="bold" fill="#333" text-anchor="middle">of machine learning to your embedded application.</text>
<rect x="795.20" y="537.20" width="76.60" height="17.20" fill="#fdfdfd"/>
<text transform="translate(833.6 543.6) scale(0.1)" font-size="52" fill="#c0407c" text-anchor="middle" letter-spacing="10.5">CARTESIAM.AI</text>
<rect x="809.00" y="546.00" width="49.00" height="0.50" fill="#ecc8d8"/>
<text transform="translate(833.6 552.0) scale(0.1)" font-size="27" fill="#555" text-anchor="middle">Intelligence in things</text>
<rect x="795.20" y="559.40" width="76.60" height="17.20" fill="#fdfdfd"/>
<rect x="808.60" y="562.00" width="7.00" height="1.30" fill="#e8a860"/>
<rect x="808.60" y="563.90" width="7.00" height="1.30" fill="#70b870"/>
<rect x="808.60" y="565.80" width="7.00" height="1.30" fill="#e06060"/>
<text transform="translate(838.4 567.2) scale(0.1)" font-size="56" font-weight="bold" fill="#222" text-anchor="middle">EDGE IMPULSE</text>
<text transform="translate(833.6 574.4) scale(0.1)" font-size="27" fill="#555" text-anchor="middle">The embedded ML development platform</text>
<rect x="795.20" y="581.60" width="76.60" height="24.20" fill="#fdfdfd"/>
<path d="M810 594 L813.5 589 L812.5 585.5 L815 588.6 L818.5 584 L817 589.4 L821.6 588.8 L817.4 592 L815 596.6 L814 592.6 Z" fill="#1f7a6a"/>
<text transform="translate(823.6 591.4) scale(0.1)" font-size="40" font-weight="bold" fill="#2d7f84">MOTION <tspan fill="#8fcfc4">GESTURES</tspan></text>
<rect x="826.00" y="593.20" width="33.00" height="0.80" fill="#b8dcd8"/>
<text transform="translate(833.6 603.2) scale(0.1)" font-size="27" fill="#555" text-anchor="middle">Gesture recognition in minutes</text>
<rect x="776.90" y="609.80" width="120.70" height="12.80" fill="#c9d5e3"/>
<circle cx="780.4" cy="615.2" r="2.3" fill="#2266b8"/>
<text transform="translate(785.00 615.00) scale(0.1)" font-size="30" fill="#444">Partner solutions can be deployed in Microchip SAM® &amp; PIC® boards</text>
<text transform="translate(785.00 619.60) scale(0.1)" font-size="30" fill="#444">See documentation and manuals/guidelines.</text>
<rect x="898.60" y="517.80" width="120.80" height="111.00" fill="#fff"/>
<rect x="907.60" y="519.60" width="0.50" height="103.00" fill="#555"/>
<rect x="907.60" y="622.20" width="110.40" height="0.50" fill="#8a8a8a"/>
<rect x="902.40" y="525.80" width="3.20" height="1.20" fill="#666"/>
<rect x="906.40" y="526.20" width="1.20" height="0.40" fill="#666"/>
<rect x="902.40" y="536.80" width="3.20" height="1.20" fill="#666"/>
<rect x="906.40" y="537.20" width="1.20" height="0.40" fill="#666"/>
<rect x="902.40" y="547.80" width="3.20" height="1.20" fill="#666"/>
<rect x="906.40" y="548.20" width="1.20" height="0.40" fill="#666"/>
<rect x="902.40" y="558.80" width="3.20" height="1.20" fill="#666"/>
<rect x="906.40" y="559.20" width="1.20" height="0.40" fill="#666"/>
<rect x="902.40" y="569.80" width="3.20" height="1.20" fill="#666"/>
<rect x="906.40" y="570.20" width="1.20" height="0.40" fill="#666"/>
<rect x="902.40" y="580.80" width="3.20" height="1.20" fill="#666"/>
<rect x="906.40" y="581.20" width="1.20" height="0.40" fill="#666"/>
<rect x="902.40" y="591.80" width="3.20" height="1.20" fill="#666"/>
<rect x="906.40" y="592.20" width="1.20" height="0.40" fill="#666"/>
<rect x="902.40" y="602.80" width="3.20" height="1.20" fill="#666"/>
<rect x="906.40" y="603.20" width="1.20" height="0.40" fill="#666"/>
<rect x="902.40" y="613.80" width="3.20" height="1.20" fill="#666"/>
<rect x="906.40" y="614.20" width="1.20" height="0.40" fill="#666"/>
<rect x="915.60" y="625.40" width="3.60" height="1.20" fill="#c07850"/>
<rect x="927.30" y="625.40" width="3.60" height="1.20" fill="#c07850"/>
<rect x="939.00" y="625.40" width="3.60" height="1.20" fill="#777"/>
<rect x="950.70" y="625.40" width="3.60" height="1.20" fill="#777"/>
<rect x="962.40" y="625.40" width="3.60" height="1.20" fill="#777"/>
<rect x="974.10" y="625.40" width="3.60" height="1.20" fill="#777"/>
<rect x="985.80" y="625.40" width="3.60" height="1.20" fill="#777"/>
<rect x="997.50" y="625.40" width="3.60" height="1.20" fill="#777"/>
<rect x="1009.20" y="625.40" width="3.60" height="1.20" fill="#777"/>
<rect x="968.90" y="519.60" width="0.40" height="102.80" fill="#b0b0b0"/>
<polyline points="975.9,544.4 976.9,547.4 977.2,548.7 976.1,551.6 976.7,554.8 974.4,558.4 974.0,559.7 970.9,561.4 967.8,564.6 964.9,565.9 962.1,567.1 959.6,568.9 957.1,569.6 953.5,570.2 950.4,570.2 947.2,571.1 945.5,569.6 942.2,567.9 939.3,566.7 937.7,565.9 937.1,563.7 936.4,561.7 936.1,557.3 936.0,556.8 937.3,554.1 937.7,550.1 940.3,548.6 941.3,545.5 944.5,544.7 947.3,541.1 949.4,539.9 952.8,539.9 956.0,538.6 959.4,537.3 962.9,536.9 965.8,537.2 968.2,538.2 971.0,540.7 973.5,540.6 975.2,542.2 976.1,545.6" fill="none" stroke="#5ba4d8" stroke-width="0.9" opacity="0.7"/>
<polyline points="972.4,543.8 971.8,546.1 972.9,547.3 973.0,550.7 972.1,553.2 971.8,554.2 970.2,557.7 968.0,559.4 966.9,562.0 963.7,564.2 961.8,565.6 958.7,566.9 954.9,567.6 952.6,569.1 950.2,569.8 947.4,569.2 945.8,568.6 943.3,569.0 941.3,566.3 939.4,566.3 937.9,563.6 937.2,563.5 936.9,559.6 936.6,558.0 936.6,556.1 938.9,554.4 938.8,551.2 941.3,548.9 944.0,546.8 946.7,544.8 949.1,542.9 950.8,541.7 953.4,541.4 955.8,539.7 959.1,539.1 961.7,539.8 964.3,539.2 968.0,540.4 969.0,542.4 970.1,542.2 971.5,543.7" fill="none" stroke="#9acbea" stroke-width="0.9" opacity="0.7"/>
<polyline points="975.0,542.0 975.3,544.2 975.7,546.4 975.9,548.5 976.1,551.0 973.8,553.6 972.1,556.1 969.7,558.2 966.1,560.5 964.6,562.1 961.7,565.1 958.2,567.4 953.9,567.8 951.3,569.2 948.1,569.5 945.5,570.0 941.5,570.4 939.2,570.3 938.1,569.2 935.0,567.7 934.4,567.3 933.0,564.3 933.7,563.3 932.9,560.1 935.9,558.0 935.6,555.8 939.0,553.1 940.1,550.7 943.4,548.4 946.5,545.9 949.0,544.7 952.0,542.6 955.7,540.3 958.9,540.1 962.4,539.2 964.9,538.3 968.3,538.1 971.3,539.4 973.1,538.9 973.8,541.5 975.7,542.3" fill="none" stroke="#5ba4d8" stroke-width="0.9" opacity="0.7"/>
<polyline points="975.2,541.4 975.2,542.9 976.1,545.5 976.1,547.6 975.5,549.5 974.9,552.7 972.1,555.9 970.3,556.6 967.9,559.9 965.7,561.3 962.6,564.3 959.9,565.8 955.9,567.0 952.4,568.3 950.1,568.2 946.5,567.8 944.7,568.7 942.0,567.3 939.4,566.2 938.3,565.6 935.5,563.3 935.2,562.0 935.4,559.5 934.7,558.4 935.5,555.9 936.5,552.5 938.9,549.2 940.3,547.9 943.9,545.5 946.7,543.6 949.4,541.8 951.2,539.4 955.2,537.8 959.0,537.2 962.0,537.1 964.6,536.0 967.6,537.2 970.3,536.3 973.0,538.5 973.9,539.5 974.6,541.4" fill="none" stroke="#5ba4d8" stroke-width="0.9" opacity="0.7"/>
<polyline points="977.4,544.4 977.6,546.7 976.8,548.8 977.2,551.4 976.5,552.1 974.2,554.4 972.7,557.8 970.9,559.0 967.1,561.0 965.3,563.8 961.3,565.5 957.4,565.9 954.9,567.6 951.5,567.6 948.7,567.3 946.0,567.2 943.1,567.2 940.4,567.2 938.8,565.7 937.3,564.6 935.6,562.6 936.2,561.1 936.2,559.5 936.8,557.3 937.1,555.2 939.6,552.8 940.3,549.9 943.5,547.2 946.7,546.3 947.7,544.0 951.8,542.0 954.5,542.2 958.2,540.9 960.7,539.8 964.4,538.4 967.1,539.9 971.1,540.2 971.8,540.8 974.8,541.4 975.9,542.2 975.9,544.2" fill="none" stroke="#5ba4d8" stroke-width="0.9" opacity="0.7"/>
<polyline points="976.4,543.0 977.3,545.5 978.6,548.0 977.5,551.2 976.2,553.0 975.6,555.9 973.6,558.2 971.7,561.3 968.2,563.1 966.0,565.1 963.2,567.7 959.6,567.5 956.7,568.7 952.5,570.7 950.5,570.4 947.3,569.5 943.1,569.4 941.0,568.6 938.2,566.1 937.2,564.1 936.2,561.8 934.8,560.6 934.5,558.0 934.3,555.1 935.6,553.4 936.6,549.6 940.1,548.0 941.6,544.0 943.9,543.7 946.3,540.5 949.6,538.6 952.7,538.1 956.5,536.3 959.4,536.3 963.3,535.3 965.8,536.1 969.4,537.0 972.6,538.1 973.3,539.4 975.5,541.1 977.3,543.1" fill="none" stroke="#5ba4d8" stroke-width="0.9" opacity="0.7"/>
<polyline points="975.0,543.1 975.9,544.5 976.8,547.1 977.2,548.7 977.9,551.8 976.7,555.4 974.9,558.0 973.9,560.9 971.5,564.2 968.3,565.6 965.5,567.9 963.1,570.9 960.5,572.3 956.9,571.7 955.0,573.4 950.4,574.5 947.5,573.2 945.3,571.5 942.9,571.8 940.6,569.4 939.6,567.7 937.1,564.7 936.7,562.7 935.4,559.8 936.2,556.7 937.4,554.7 938.2,551.2 940.2,548.5 942.7,545.8 945.9,543.7 947.5,540.7 950.3,540.5 954.1,537.9 956.4,536.8 960.4,536.3 963.4,536.3 966.2,535.8 969.1,538.2 972.4,538.6 972.4,539.9 974.8,542.1" fill="none" stroke="#5ba4d8" stroke-width="0.9" opacity="0.7"/>
<polyline points="971.8,543.2 972.5,545.2 972.9,547.5 974.4,550.1 972.5,552.4 973.5,555.0 971.9,557.0 970.0,560.0 968.8,562.2 967.1,565.4 963.7,567.1 962.0,568.8 958.2,569.6 955.3,571.7 951.6,571.0 949.9,571.3 947.2,570.6 944.6,569.5 942.2,569.8 939.7,568.0 939.5,566.1 937.1,563.7 937.1,562.2 936.2,558.8 937.4,556.5 938.7,554.2 939.3,550.9 940.4,548.3 941.7,546.5 945.3,544.4 946.1,542.4 949.0,540.6 951.9,539.3 954.6,538.8 958.4,537.7 961.3,537.5 963.2,538.8 966.2,538.1 967.5,540.4 970.2,541.4 972.4,542.8" fill="none" stroke="#9acbea" stroke-width="0.9" opacity="0.7"/>
<polyline points="973.7,544.3 973.2,546.6 973.8,549.1 974.1,550.3 973.3,554.1 972.8,556.3 970.8,558.1 970.2,560.5 967.1,562.8 965.2,564.7 962.6,565.6 959.8,567.3 957.0,568.4 954.1,569.0 951.1,568.6 947.7,568.7 945.3,567.3 942.1,566.1 941.3,565.8 938.4,563.1 937.0,561.6 936.8,560.2 935.5,557.0 935.9,555.0 937.2,551.2 937.3,549.7 939.9,547.6 940.2,544.5 942.7,542.4 945.6,541.3 948.5,538.7 950.7,537.9 954.0,537.8 957.1,536.9 960.7,536.3 963.0,537.7 966.2,537.0 968.4,539.4 969.8,539.7 971.3,542.9 973.4,543.4" fill="none" stroke="#3f8fcc" stroke-width="0.9" opacity="0.7"/>
<polyline points="979.4,545.1 978.8,547.4 979.9,549.0 979.0,550.8 978.7,554.1 975.9,556.9 974.5,558.5 971.3,561.2 968.5,562.6 966.7,563.8 962.3,566.4 959.9,567.7 957.1,568.8 952.5,570.3 949.8,569.9 945.7,569.8 943.6,570.1 942.0,568.6 938.8,568.1 938.4,567.3 937.6,564.3 936.3,563.2 937.3,560.9 935.8,558.4 937.4,557.0 939.9,554.4 941.6,551.0 943.9,550.3 946.8,547.4 948.8,545.2 953.4,544.4 956.7,542.7 959.8,540.7 963.3,541.5 966.7,541.0 969.4,540.3 970.8,540.6 973.6,540.9 975.6,542.3 977.7,544.1 978.6,545.3" fill="none" stroke="#5ba4d8" stroke-width="0.9" opacity="0.7"/>
<polyline points="975.2,544.2 975.6,544.7 975.3,547.1 975.1,549.8 974.8,552.9 973.9,554.2 972.9,556.7 971.0,558.1 968.0,560.6 965.0,562.7 963.8,564.6 960.9,565.4 957.1,565.6 954.0,567.0 951.4,566.7 948.6,567.6 947.0,567.4 944.0,565.7 942.9,565.8 940.6,563.7 939.2,561.8 939.5,561.1 938.7,558.8 939.0,555.6 940.2,553.9 939.7,551.4 941.7,549.9 944.1,546.9 946.8,544.8 948.3,542.9 951.9,540.9 955.0,540.3 957.3,539.6 960.1,539.7 964.0,538.6 965.6,537.8 968.6,538.2 970.9,538.8 972.8,541.1 973.5,542.3 974.0,543.2" fill="none" stroke="#7fbbe4" stroke-width="0.9" opacity="0.7"/>
<polyline points="977.3,545.9 977.6,548.2 977.8,550.0 976.9,552.9 976.3,555.8 975.0,559.0 972.6,561.8 971.6,563.4 969.2,566.9 966.0,568.4 962.1,569.8 959.1,572.5 956.3,572.4 951.8,572.7 949.3,572.6 946.3,572.5 942.8,570.7 939.6,571.3 937.3,568.7 935.3,565.8 934.9,563.6 933.7,561.4 933.0,558.7 934.3,556.5 934.8,552.5 936.0,549.7 938.4,548.2 939.4,544.5 943.0,542.6 945.9,541.5 949.5,539.7 952.5,538.4 955.1,537.2 958.6,536.0 962.4,536.4 964.5,536.7 968.1,537.4 971.7,539.2 973.1,540.8 975.1,542.2 975.9,545.6" fill="none" stroke="#9acbea" stroke-width="0.9" opacity="0.7"/>
<polyline points="976.2,541.4 977.2,542.6 979.0,545.0 977.5,546.7 977.3,550.6 976.4,551.6 974.9,554.6 972.1,557.3 971.1,560.7 967.0,563.0 964.2,565.5 960.1,566.2 958.0,567.3 955.5,569.0 951.3,568.7 948.9,570.2 944.8,568.9 942.1,568.8 940.5,567.2 937.8,566.4 937.7,565.0 936.2,563.1 936.5,560.2 935.3,557.9 937.4,555.2 937.5,553.1 939.1,551.1 941.2,547.4 943.3,544.1 946.4,542.1 949.3,541.2 951.8,538.8 956.0,536.7 958.9,536.5 962.3,536.5 965.8,534.2 968.6,536.0 971.3,537.0 973.0,536.7 975.4,538.8 976.5,540.7" fill="none" stroke="#5ba4d8" stroke-width="0.9" opacity="0.7"/>
<polyline points="977.3,543.7 977.8,546.0 977.8,548.6 977.7,552.1 977.6,554.4 975.2,556.9 973.6,559.6 971.5,560.8 969.7,564.0 967.0,566.3 962.8,567.1 959.7,569.1 957.1,569.6 953.9,570.9 950.5,571.4 948.0,570.2 945.4,568.9 941.9,568.6 939.6,567.3 939.0,565.5 937.2,563.9 936.4,562.2 935.8,558.9 936.4,557.1 938.3,554.2 938.0,551.6 940.0,548.5 942.9,545.4 945.2,544.8 948.3,541.5 950.9,541.2 952.9,539.4 957.5,537.6 960.0,537.6 963.1,537.1 966.2,539.1 969.9,538.7 971.1,539.4 973.8,540.4 975.9,543.3 976.5,544.4" fill="none" stroke="#7fbbe4" stroke-width="0.9" opacity="0.7"/>
<polyline points="973.1,544.6 973.8,546.8 973.6,548.4 974.1,550.4 973.4,552.6 971.7,555.4 970.6,557.6 968.3,560.2 966.7,562.3 964.9,565.2 962.5,566.5 958.5,567.4 955.7,569.0 952.9,568.6 949.4,569.0 947.2,569.0 946.0,568.4 942.3,567.4 940.6,567.2 939.1,565.2 938.5,563.3 936.1,560.8 936.1,557.9 937.1,555.5 937.7,553.5 937.4,551.4 938.8,548.3 940.9,547.0 942.5,544.6 945.8,542.7 948.1,541.6 951.1,540.2 954.1,538.0 956.4,538.0 960.2,537.6 962.8,538.7 964.7,538.5 967.1,539.2 968.5,540.4 971.5,542.3 973.4,544.7" fill="none" stroke="#3f8fcc" stroke-width="0.9" opacity="0.7"/>
<polyline points="976.6,544.5 977.6,546.2 977.5,548.4 976.6,550.2 976.6,552.9 974.7,555.0 972.9,557.7 970.5,559.7 968.1,561.6 965.5,563.4 963.1,564.8 958.7,565.7 956.1,566.6 953.4,568.2 948.9,569.2 946.8,567.6 943.6,568.6 941.0,567.8 939.5,565.3 936.7,565.0 936.2,563.1 936.8,561.8 936.0,559.1 936.4,557.9 936.7,555.6 937.9,552.1 939.8,550.7 942.6,547.2 944.7,546.2 948.6,544.9 951.5,543.0 954.8,540.5 957.9,539.9 960.5,539.7 963.8,538.6 966.9,539.0 971.1,539.5 971.6,540.2 975.1,541.0 975.5,543.0 977.8,543.8" fill="none" stroke="#3f8fcc" stroke-width="0.9" opacity="0.7"/>
<rect x="1019.40" y="420.20" width="49.80" height="92.40" fill="#e2e2e3"/>
<rect x="1019.40" y="517.80" width="49.80" height="111.00" fill="#e2e2e3"/>
<rect x="1019.00" y="420.20" width="1.20" height="208.60" fill="#bdbdbf"/>
<rect x="1066.60" y="420.20" width="1.40" height="75.80" fill="#b4b4b6"/>
<text transform="translate(1024.00 424.00) scale(0.1)" font-size="31" font-weight="bold" fill="#444">Time Axis</text>
<rect x="1024.40" y="428.00" width="12.80" height="5.60" fill="#f4f4f4"/>
<text transform="translate(1026.40 432.20) scale(0.1)" font-size="31" fill="#666">100.0</text>
<rect x="1043.60" y="428.00" width="11.00" height="5.60" fill="#fafafa"/>
<text transform="translate(1045.00 432.20) scale(0.1)" font-size="31" fill="#666">ms</text>
<rect x="1057.20" y="429.80" width="3.00" height="2.20" fill="#444"/>
<text transform="translate(1026.40 440.40) scale(0.1)" font-size="33" font-weight="bold" fill="#444">✐ Mark</text>
<text transform="translate(1024.00 448.60) scale(0.1)" font-size="31" font-weight="bold" fill="#444">Value Axis</text>
<rect x="1024.40" y="452.40" width="12.80" height="5.60" fill="#d4d4d6"/>
<text transform="translate(1025.60 456.40) scale(0.1)" font-size="30" fill="#aaa">1234.5</text>
<rect x="1043.60" y="452.40" width="11.00" height="5.60" fill="#fafafa"/>
<text transform="translate(1045.00 456.40) scale(0.1)" font-size="31" fill="#666">4.0</text>
<rect x="1057.40" y="452.80" width="3.00" height="4.80" fill="#66686a"/>
<rect x="1046.20" y="460.60" width="1.80" height="2.20" fill="#a8d098"/>
<rect x="1051.20" y="460.60" width="1.80" height="2.20" fill="#b8d8a8"/>
<rect x="1057.40" y="459.80" width="3.00" height="4.60" fill="#6a6a8a"/>
<rect x="1024.40" y="467.40" width="18.00" height="5.40" fill="#f6f6f6"/>
<text transform="translate(1025.20 471.50) scale(0.1)" font-size="30" font-weight="bold" fill="#444">x1 on HFG</text>
<rect x="1044.60" y="468.40" width="3.40" height="3.40" fill="#8a8c90"/>
<circle cx="1053.0" cy="470.10" r="1.15" fill="#6a7aa8"/>
<rect x="1057.40" y="467.80" width="3.00" height="4.60" fill="#6a7a8a"/>
<rect x="1024.40" y="474.95" width="18.00" height="5.40" fill="#f6f6f6"/>
<text transform="translate(1025.20 479.05) scale(0.1)" font-size="30" font-weight="bold" fill="#444">x2 on HFG</text>
<rect x="1044.60" y="475.95" width="3.40" height="3.40" fill="#8a8c90"/>
<circle cx="1053.0" cy="477.65" r="1.15" fill="#2a3a8a"/>
<rect x="1057.40" y="475.35" width="3.00" height="4.60" fill="#6a7a8a"/>
<rect x="1024.40" y="482.50" width="18.00" height="5.40" fill="#f6f6f6"/>
<text transform="translate(1025.20 486.60) scale(0.1)" font-size="30" font-weight="bold" fill="#444">x3 on HFG</text>
<rect x="1044.60" y="483.50" width="3.40" height="3.40" fill="#8a8c90"/>
<circle cx="1053.0" cy="485.20" r="1.15" fill="#5a9a5a"/>
<rect x="1057.40" y="482.90" width="3.00" height="4.60" fill="#6a7a8a"/>
<rect x="1024.40" y="490.05" width="18.00" height="5.40" fill="#f6f6f6"/>
<text transform="translate(1025.20 494.15) scale(0.1)" font-size="30" font-weight="bold" fill="#444">y1 on HFG</text>
<rect x="1044.60" y="491.05" width="3.40" height="3.40" fill="#8a8c90"/>
<circle cx="1053.0" cy="492.75" r="1.15" fill="#e0b878"/>
<rect x="1057.40" y="490.45" width="3.00" height="4.60" fill="#6a7a8a"/>
<rect x="1024.40" y="497.60" width="18.00" height="5.40" fill="#f6f6f6"/>
<text transform="translate(1025.20 501.70) scale(0.1)" font-size="30" font-weight="bold" fill="#444">y2 on HFG</text>
<rect x="1044.60" y="498.60" width="3.40" height="3.40" fill="#8a8c90"/>
<circle cx="1053.0" cy="500.30" r="1.15" fill="#4a2a2a"/>
<rect x="1057.40" y="498.00" width="3.00" height="4.60" fill="#6a7a8a"/>
<rect x="1024.40" y="505.15" width="18.00" height="5.40" fill="#f6f6f6"/>
<text transform="translate(1025.20 509.25) scale(0.1)" font-size="30" font-weight="bold" fill="#444">y3 on HFG</text>
<rect x="1044.60" y="506.15" width="3.40" height="3.40" fill="#8a8c90"/>
<circle cx="1053.0" cy="507.85" r="1.15" fill="#a83a5a"/>
<rect x="1057.40" y="505.55" width="3.00" height="4.60" fill="#6a7a8a"/>
<text transform="translate(1024.00 522.00) scale(0.1)" font-size="31" font-weight="bold" fill="#444">X Axis</text>
<rect x="1024.40" y="525.60" width="12.80" height="5.60" fill="#d4d4d6"/>
<text transform="translate(1025.60 529.60) scale(0.1)" font-size="30" fill="#aaa">1234.5</text>
<rect x="1043.60" y="525.60" width="11.00" height="5.60" fill="#fafafa"/>
<text transform="translate(1045.00 529.60) scale(0.1)" font-size="31" fill="#666">0.8</text>
<rect x="1057.40" y="526.00" width="3.00" height="4.80" fill="#66686a"/>
<rect x="1024.40" y="534.00" width="40.20" height="5.60" fill="#f6f6f6"/>
<text transform="translate(1025.20 538.00) scale(0.1)" font-size="30" font-weight="bold" fill="#444">x1 on XIN 0</text>
<text transform="translate(1060.40 538.20) scale(0.1)" font-size="32" fill="#444">▾</text>
<text transform="translate(1024.00 547.20) scale(0.1)" font-size="31" font-weight="bold" fill="#444">Y Axis</text>
<rect x="1024.40" y="550.80" width="12.80" height="5.60" fill="#d4d4d6"/>
<text transform="translate(1025.60 554.80) scale(0.1)" font-size="30" fill="#aaa">1234.5</text>
<rect x="1043.60" y="550.80" width="11.00" height="5.60" fill="#fafafa"/>
<text transform="translate(1045.00 554.80) scale(0.1)" font-size="31" fill="#666">0.8</text>
<rect x="1057.40" y="551.20" width="3.00" height="4.80" fill="#66686a"/>
<rect x="1024.40" y="559.20" width="24.00" height="5.60" fill="#f6f6f6"/>
<text transform="translate(1025.20 563.20) scale(0.1)" font-size="30" font-weight="bold" fill="#444">x2 on XIN 0</text>
<text transform="translate(1048.80 563.40) scale(0.1)" font-size="32" fill="#444">▾</text>
<rect x="1054.40" y="560.20" width="3.60" height="3.60" fill="#a8aaae"/>
<rect x="1061.40" y="559.20" width="5.40" height="5.60" fill="#cfe4f4"/>
<circle cx="1063.2" cy="562.0" r="1.1" fill="#2a7ab8"/>
</g></g>
</svg>
</body>
</html>
